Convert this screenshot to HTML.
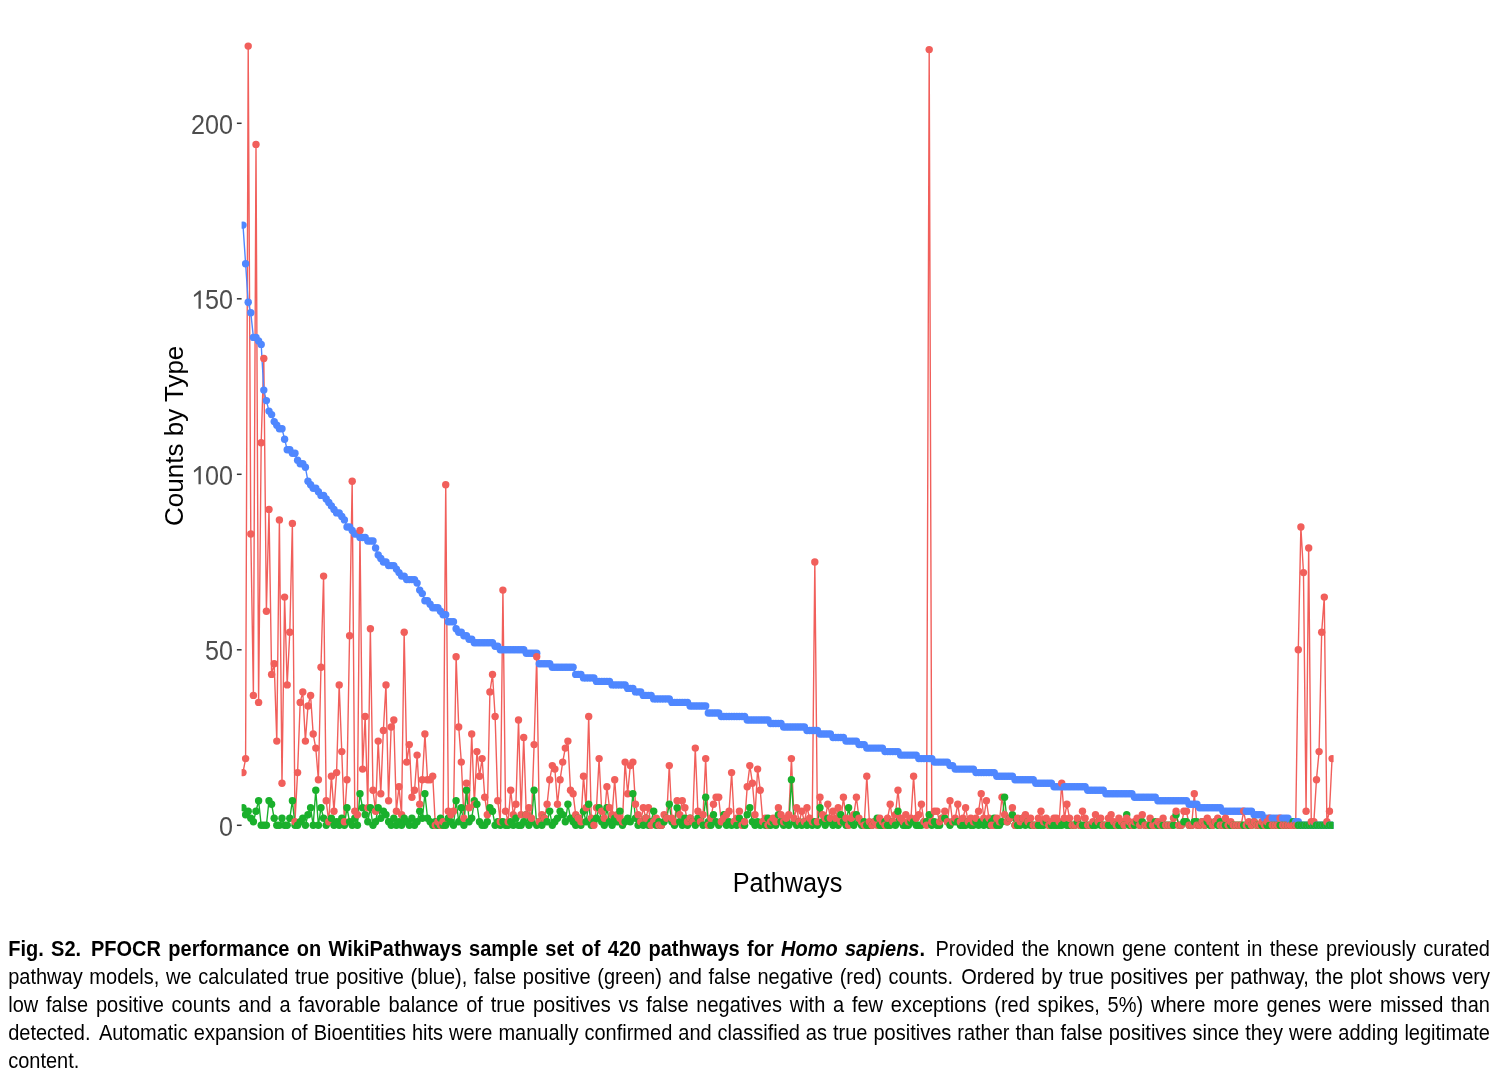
<!DOCTYPE html>
<html><head><meta charset="utf-8"><title>Fig. S2</title>
<style>
html,body{margin:0;padding:0;background:#fff;}
body{width:1498px;height:1080px;position:relative;overflow:hidden;font-family:"Liberation Sans",sans-serif;}
svg{position:absolute;left:0;top:0;filter:blur(0.45px);}
#cap{filter:blur(0.45px);}
.b{fill:#4F87FF}.g{fill:#1AB02C}.r{fill:#F15F5B}
.tl{font-family:"Liberation Sans",sans-serif;font-size:25.2px;fill:#4d4d4d;}
.at{font-family:"Liberation Sans",sans-serif;font-size:25.3px;fill:#000;}
#cap{position:absolute;left:8.2px;top:934.7px;width:1481.8px;font-size:20px;line-height:28px;color:#000;}
#cap div{text-align:justify;text-align-last:justify;white-space:nowrap;height:28px;transform:scaleY(1.075);transform-origin:0 20.93px;}
#cap div.last{text-align-last:left;}
</style></head><body>
<svg width="1498" height="1080" viewBox="0 0 1498 1080">
<line x1="236.9" x2="241.6" y1="825.30" y2="825.30" stroke="#333" stroke-width="1.5"/><text transform="translate(232.9,835.90) scale(1,1.1)" text-anchor="end" class="tl">0</text><line x1="236.9" x2="241.6" y1="649.80" y2="649.80" stroke="#333" stroke-width="1.5"/><text transform="translate(232.9,660.40) scale(1,1.1)" text-anchor="end" class="tl">50</text><line x1="236.9" x2="241.6" y1="474.30" y2="474.30" stroke="#333" stroke-width="1.5"/><text transform="translate(232.9,484.90) scale(1,1.1)" text-anchor="end" class="tl">00</text><path d="M200.8 465.9 L200.8 484.2 L198.5 484.2 L198.5 469.4 L194.3 472.4 L193.9 471.8 L193.9 470.4 L199.3 465.9Z" fill="#4d4d4d"/><line x1="236.9" x2="241.6" y1="298.80" y2="298.80" stroke="#333" stroke-width="1.5"/><text transform="translate(232.9,309.40) scale(1,1.1)" text-anchor="end" class="tl">50</text><path d="M200.8 290.4 L200.8 308.7 L198.5 308.7 L198.5 293.9 L194.3 296.9 L193.9 296.3 L193.9 294.9 L199.3 290.4Z" fill="#4d4d4d"/><line x1="236.9" x2="241.6" y1="123.30" y2="123.30" stroke="#333" stroke-width="1.5"/><text transform="translate(232.9,133.90) scale(1,1.1)" text-anchor="end" class="tl">200</text>
<text transform="translate(787.5,892.3) scale(1,1.075)" text-anchor="middle" class="at">Pathways</text>
<text transform="translate(183.3,435.8) scale(1,1.041) rotate(-90)" text-anchor="middle" class="at" style="font-size:25px">Counts by Type</text>
<defs><clipPath id="pc"><rect x="241.6" y="0" width="1092" height="900"/></clipPath></defs>
<g clip-path="url(#pc)"><polyline points="243.00,772.65 245.60,758.61 248.20,46.08 250.80,533.97 253.40,695.43 256.00,144.36 258.60,702.45 261.19,442.71 263.79,358.47 266.39,611.19 268.99,509.40 271.59,674.37 274.19,663.84 276.79,741.06 279.39,519.93 281.99,783.18 284.59,597.15 287.19,684.90 289.79,632.25 292.38,523.44 294.98,821.79 297.58,772.65 300.18,702.45 302.78,691.92 305.38,741.06 307.98,705.96 310.58,695.43 313.18,734.04 315.78,748.08 318.38,779.67 320.98,667.35 323.58,576.09 326.17,800.73 328.77,821.79 331.37,776.16 333.97,811.26 336.57,772.65 339.17,684.90 341.77,751.59 344.37,821.79 346.97,779.67 349.57,635.76 352.17,481.32 354.77,811.26 357.36,814.77 359.96,530.46 362.56,769.14 365.16,716.49 367.76,807.75 370.36,628.74 372.96,790.20 375.56,811.26 378.16,741.06 380.76,793.71 383.36,730.53 385.96,684.90 388.56,800.73 391.15,727.02 393.75,720.00 396.35,811.26 398.95,786.69 401.55,814.77 404.15,632.25 406.75,762.12 409.35,744.57 411.95,797.22 414.55,790.20 417.15,755.10 419.75,804.24 422.34,779.67 424.94,734.04 427.54,779.67 430.14,779.67 432.74,776.16 435.34,825.30 437.94,821.79 440.54,825.30 443.14,821.79 445.74,484.83 448.34,811.26 450.94,814.77 453.54,811.26 456.13,656.82 458.73,727.02 461.33,762.12 463.93,818.28 466.53,783.18 469.13,807.75 471.73,734.04 474.33,804.24 476.93,751.59 479.53,776.16 482.13,758.61 484.73,797.22 487.32,814.77 489.92,691.92 492.52,674.37 495.12,716.49 497.72,800.73 500.32,821.79 502.92,590.13 505.52,811.26 508.12,821.79 510.72,790.20 513.32,814.77 515.92,804.24 518.52,720.00 521.11,814.77 523.71,737.55 526.31,814.77 528.91,807.75 531.51,818.28 534.11,744.57 536.71,656.82 539.31,821.79 541.91,814.77 544.51,818.28 547.11,804.24 549.71,779.67 552.30,765.63 554.90,769.14 557.50,804.24 560.10,779.67 562.70,762.12 565.30,748.08 567.90,741.06 570.50,790.20 573.10,793.71 575.70,814.77 578.30,818.28 580.90,821.79 583.50,776.16 586.09,807.75 588.69,716.49 591.29,818.28 593.89,825.30 596.49,807.75 599.09,758.61 601.69,811.26 604.29,818.28 606.89,786.69 609.49,807.75 612.09,814.77 614.69,779.67 617.28,814.77 619.88,818.28 622.48,821.79 625.08,762.12 627.68,793.71 630.28,765.63 632.88,762.12 635.48,804.24 638.08,814.77 640.68,821.79 643.28,807.75 645.88,818.28 648.48,807.75 651.07,825.30 653.67,821.79 656.27,818.28 658.87,825.30 661.47,825.30 664.07,814.77 666.67,818.28 669.27,765.63 671.87,818.28 674.47,821.79 677.07,800.73 679.67,814.77 682.26,800.73 684.86,807.75 687.46,821.79 690.06,818.28 692.66,821.79 695.26,748.08 697.86,811.26 700.46,821.79 703.06,814.77 705.66,758.61 708.26,825.30 710.86,818.28 713.46,804.24 716.05,797.22 718.65,797.22 721.25,821.79 723.85,818.28 726.45,814.77 729.05,811.26 731.65,772.65 734.25,821.79 736.85,818.28 739.45,811.26 742.05,825.30 744.65,821.79 747.24,786.69 749.84,765.63 752.44,783.18 755.04,814.77 757.64,769.14 760.24,790.20 762.84,821.79 765.44,818.28 768.04,825.30 770.64,821.79 773.24,818.28 775.84,821.79 778.44,807.75 781.03,814.77 783.63,821.79 786.23,818.28 788.83,814.77 791.43,758.61 794.03,818.28 796.63,807.75 799.23,821.79 801.83,811.26 804.43,821.79 807.03,807.75 809.63,818.28 812.22,821.79 814.82,562.05 817.42,821.79 820.02,797.22 822.62,814.77 825.22,818.28 827.82,804.24 830.42,818.28 833.02,811.26 835.62,818.28 838.22,807.75 840.82,821.79 843.42,797.22 846.01,818.28 848.61,825.30 851.21,818.28 853.81,814.77 856.41,797.22 859.01,818.28 861.61,821.79 864.21,825.30 866.81,776.16 869.41,821.79 872.01,825.30 874.61,821.79 877.20,825.30 879.80,818.28 882.40,821.79 885.00,825.30 887.60,818.28 890.20,804.24 892.80,821.79 895.40,814.77 898.00,790.20 900.60,818.28 903.20,821.79 905.80,814.77 908.40,821.79 910.99,818.28 913.59,776.16 916.19,818.28 918.79,814.77 921.39,804.24 923.99,821.79 926.59,825.30 929.19,49.59 931.79,821.79 934.39,811.26 936.99,811.26 939.59,821.79 942.18,818.28 944.78,811.26 947.38,821.79 949.98,800.73 952.58,821.79 955.18,818.28 957.78,804.24 960.38,821.79 962.98,818.28 965.58,807.75 968.18,821.79 970.78,818.28 973.38,821.79 975.97,818.28 978.57,811.26 981.17,793.71 983.77,818.28 986.37,800.73 988.97,818.28 991.57,825.30 994.17,825.30 996.77,818.28 999.37,821.79 1001.97,797.22 1004.57,814.77 1007.16,821.79 1009.76,818.28 1012.36,807.75 1014.96,825.30 1017.56,818.28 1020.16,821.79 1022.76,818.28 1025.36,814.77 1027.96,821.79 1030.56,818.28 1033.16,825.30 1035.76,825.30 1038.36,818.28 1040.95,811.26 1043.55,821.79 1046.15,818.28 1048.75,825.30 1051.35,821.79 1053.95,818.28 1056.55,818.28 1059.15,821.79 1061.75,783.18 1064.35,818.28 1066.95,804.24 1069.55,818.28 1072.14,825.30 1074.74,825.30 1077.34,818.28 1079.94,825.30 1082.54,811.26 1085.14,818.28 1087.74,825.30 1090.34,825.30 1092.94,821.79 1095.54,814.77 1098.14,821.79 1100.74,818.28 1103.34,825.30 1105.93,825.30 1108.53,818.28 1111.13,814.77 1113.73,821.79 1116.33,825.30 1118.93,818.28 1121.53,821.79 1124.13,825.30 1126.73,818.28 1129.33,821.79 1131.93,825.30 1134.53,821.79 1137.12,818.28 1139.72,825.30 1142.32,814.77 1144.92,825.30 1147.52,825.30 1150.12,818.28 1152.72,825.30 1155.32,825.30 1157.92,821.79 1160.52,825.30 1163.12,818.28 1165.72,825.30 1168.32,825.30 1170.91,825.30 1173.51,818.28 1176.11,811.26 1178.71,825.30 1181.31,825.30 1183.91,811.26 1186.51,811.26 1189.11,825.30 1191.71,825.30 1194.31,793.71 1196.91,825.30 1199.51,825.30 1202.10,821.79 1204.70,825.30 1207.30,818.28 1209.90,821.79 1212.50,825.30 1215.10,821.79 1217.70,818.28 1220.30,825.30 1222.90,825.30 1225.50,818.28 1228.10,825.30 1230.70,821.79 1233.30,825.30 1235.89,825.30 1238.49,825.30 1241.09,825.30 1243.69,811.26 1246.29,825.30 1248.89,821.79 1251.49,825.30 1254.09,821.79 1256.69,825.30 1259.29,825.30 1261.89,821.79 1264.49,825.30 1267.08,821.79 1269.68,818.28 1272.28,825.30 1274.88,825.30 1277.48,825.30 1280.08,818.28 1282.68,825.30 1285.28,825.30 1287.88,825.30 1290.48,825.30 1293.08,825.30 1295.68,825.30 1298.28,649.80 1300.87,526.95 1303.47,572.58 1306.07,811.26 1308.67,548.01 1311.27,821.79 1313.87,821.79 1316.47,779.67 1319.07,751.59 1321.67,632.25 1324.27,597.15 1326.87,821.79 1329.47,811.26 1332.06,758.61" fill="none" stroke="#F15F5B" stroke-width="1.4" stroke-linejoin="round"/><polyline points="243.00,807.75 245.60,814.77 248.20,811.26 250.80,818.28 253.40,821.79 256.00,811.26 258.60,800.73 261.19,825.30 263.79,825.30 266.39,825.30 268.99,800.73 271.59,804.24 274.19,818.28 276.79,825.30 279.39,825.30 281.99,818.28 284.59,825.30 287.19,825.30 289.79,818.28 292.38,800.73 294.98,825.30 297.58,825.30 300.18,821.79 302.78,818.28 305.38,825.30 307.98,814.77 310.58,807.75 313.18,825.30 315.78,790.20 318.38,825.30 320.98,807.75 323.58,818.28 326.17,825.30 328.77,821.79 331.37,818.28 333.97,825.30 336.57,821.79 339.17,825.30 341.77,818.28 344.37,825.30 346.97,807.75 349.57,821.79 352.17,825.30 354.77,818.28 357.36,825.30 359.96,793.71 362.56,807.75 365.16,814.77 367.76,821.79 370.36,807.75 372.96,825.30 375.56,821.79 378.16,807.75 380.76,818.28 383.36,811.26 385.96,814.77 388.56,821.79 391.15,825.30 393.75,818.28 396.35,825.30 398.95,821.79 401.55,825.30 404.15,818.28 406.75,821.79 409.35,825.30 411.95,818.28 414.55,825.30 417.15,821.79 419.75,811.26 422.34,818.28 424.94,793.71 427.54,818.28 430.14,821.79 432.74,825.30 435.34,821.79 437.94,825.30 440.54,818.28 443.14,825.30 445.74,825.30 448.34,818.28 450.94,821.79 453.54,825.30 456.13,800.73 458.73,821.79 461.33,807.75 463.93,825.30 466.53,790.20 469.13,821.79 471.73,818.28 474.33,800.73 476.93,804.24 479.53,821.79 482.13,825.30 484.73,825.30 487.32,821.79 489.92,807.75 492.52,811.26 495.12,825.30 497.72,821.79 500.32,825.30 502.92,821.79 505.52,825.30 508.12,825.30 510.72,821.79 513.32,825.30 515.92,818.28 518.52,825.30 521.11,825.30 523.71,821.79 526.31,814.77 528.91,825.30 531.51,821.79 534.11,790.20 536.71,825.30 539.31,821.79 541.91,825.30 544.51,818.28 547.11,821.79 549.71,811.26 552.30,825.30 554.90,821.79 557.50,818.28 560.10,811.26 562.70,814.77 565.30,821.79 567.90,804.24 570.50,818.28 573.10,821.79 575.70,825.30 578.30,818.28 580.90,825.30 583.50,811.26 586.09,821.79 588.69,804.24 591.29,825.30 593.89,821.79 596.49,818.28 599.09,807.75 601.69,821.79 604.29,825.30 606.89,807.75 609.49,821.79 612.09,825.30 614.69,818.28 617.28,821.79 619.88,811.26 622.48,825.30 625.08,821.79 627.68,818.28 630.28,821.79 632.88,793.71 635.48,818.28 638.08,825.30 640.68,821.79 643.28,825.30 645.88,818.28 648.48,825.30 651.07,821.79 653.67,811.26 656.27,825.30 658.87,821.79 661.47,825.30 664.07,821.79 666.67,818.28 669.27,804.24 671.87,821.79 674.47,825.30 677.07,807.75 679.67,821.79 682.26,825.30 684.86,818.28 687.46,825.30 690.06,818.28 692.66,821.79 695.26,825.30 697.86,818.28 700.46,821.79 703.06,825.30 705.66,797.22 708.26,821.79 710.86,825.30 713.46,814.77 716.05,821.79 718.65,825.30 721.25,821.79 723.85,814.77 726.45,825.30 729.05,821.79 731.65,825.30 734.25,821.79 736.85,825.30 739.45,818.28 742.05,821.79 744.65,825.30 747.24,814.77 749.84,807.75 752.44,821.79 755.04,825.30 757.64,821.79 760.24,825.30 762.84,821.79 765.44,825.30 768.04,818.28 770.64,825.30 773.24,821.79 775.84,825.30 778.44,814.77 781.03,821.79 783.63,825.30 786.23,821.79 788.83,825.30 791.43,779.67 794.03,821.79 796.63,825.30 799.23,821.79 801.83,825.30 804.43,821.79 807.03,825.30 809.63,821.79 812.22,825.30 814.82,821.79 817.42,825.30 820.02,807.75 822.62,821.79 825.22,825.30 827.82,818.28 830.42,821.79 833.02,825.30 835.62,821.79 838.22,825.30 840.82,814.77 843.42,821.79 846.01,825.30 848.61,807.75 851.21,821.79 853.81,825.30 856.41,814.77 859.01,821.79 861.61,825.30 864.21,821.79 866.81,825.30 869.41,825.30 872.01,825.30 874.61,821.79 877.20,818.28 879.80,825.30 882.40,825.30 885.00,821.79 887.60,825.30 890.20,825.30 892.80,821.79 895.40,825.30 898.00,811.26 900.60,821.79 903.20,825.30 905.80,825.30 908.40,825.30 910.99,821.79 913.59,821.79 916.19,825.30 918.79,825.30 921.39,825.30 923.99,821.79 926.59,821.79 929.19,814.77 931.79,825.30 934.39,821.79 936.99,825.30 939.59,825.30 942.18,818.28 944.78,818.28 947.38,821.79 949.98,825.30 952.58,821.79 955.18,821.79 957.78,821.79 960.38,825.30 962.98,825.30 965.58,825.30 968.18,821.79 970.78,825.30 973.38,825.30 975.97,821.79 978.57,825.30 981.17,821.79 983.77,825.30 986.37,821.79 988.97,825.30 991.57,821.79 994.17,818.28 996.77,825.30 999.37,825.30 1001.97,821.79 1004.57,797.22 1007.16,821.79 1009.76,818.28 1012.36,814.77 1014.96,825.30 1017.56,825.30 1020.16,825.30 1022.76,818.28 1025.36,825.30 1027.96,821.79 1030.56,825.30 1033.16,825.30 1035.76,825.30 1038.36,825.30 1040.95,825.30 1043.55,825.30 1046.15,821.79 1048.75,825.30 1051.35,825.30 1053.95,825.30 1056.55,825.30 1059.15,825.30 1061.75,825.30 1064.35,821.79 1066.95,825.30 1069.55,825.30 1072.14,825.30 1074.74,825.30 1077.34,821.79 1079.94,825.30 1082.54,825.30 1085.14,825.30 1087.74,825.30 1090.34,825.30 1092.94,825.30 1095.54,825.30 1098.14,821.79 1100.74,825.30 1103.34,825.30 1105.93,825.30 1108.53,825.30 1111.13,825.30 1113.73,825.30 1116.33,825.30 1118.93,825.30 1121.53,825.30 1124.13,825.30 1126.73,814.77 1129.33,825.30 1131.93,825.30 1134.53,825.30 1137.12,821.79 1139.72,825.30 1142.32,821.79 1144.92,825.30 1147.52,825.30 1150.12,825.30 1152.72,825.30 1155.32,821.79 1157.92,825.30 1160.52,825.30 1163.12,825.30 1165.72,825.30 1168.32,825.30 1170.91,825.30 1173.51,825.30 1176.11,814.77 1178.71,825.30 1181.31,825.30 1183.91,821.79 1186.51,821.79 1189.11,825.30 1191.71,825.30 1194.31,821.79 1196.91,821.79 1199.51,825.30 1202.10,821.79 1204.70,825.30 1207.30,821.79 1209.90,825.30 1212.50,825.30 1215.10,821.79 1217.70,825.30 1220.30,821.79 1222.90,825.30 1225.50,825.30 1228.10,825.30 1230.70,825.30 1233.30,825.30 1235.89,825.30 1238.49,825.30 1241.09,825.30 1243.69,825.30 1246.29,825.30 1248.89,825.30 1251.49,825.30 1254.09,821.79 1256.69,825.30 1259.29,825.30 1261.89,825.30 1264.49,825.30 1267.08,825.30 1269.68,825.30 1272.28,825.30 1274.88,825.30 1277.48,825.30 1280.08,825.30 1282.68,825.30 1285.28,825.30 1287.88,825.30 1290.48,825.30 1293.08,821.79 1295.68,825.30 1298.28,825.30 1300.87,825.30 1303.47,825.30 1306.07,825.30 1308.67,825.30 1311.27,825.30 1313.87,825.30 1316.47,825.30 1319.07,825.30 1321.67,825.30 1324.27,825.30 1326.87,825.30 1329.47,825.30 1332.06,825.30" fill="none" stroke="#1AB02C" stroke-width="1.4" stroke-linejoin="round"/><polyline points="243.00,225.09 245.60,263.70 248.20,302.31 250.80,312.84 253.40,337.41 256.00,337.41 258.60,340.92 261.19,344.43 263.79,390.06 266.39,400.59 268.99,411.12 271.59,414.63 274.19,421.65 276.79,425.16 279.39,428.67 281.99,428.67 284.59,439.20 287.19,449.73 289.79,449.73 292.38,453.24 294.98,453.24 297.58,460.26 300.18,463.77 302.78,463.77 305.38,467.28 307.98,481.32 310.58,484.83 313.18,488.34 315.78,488.34 318.38,491.85 320.98,495.36 323.58,495.36 326.17,498.87 328.77,502.38 331.37,505.89 333.97,509.40 336.57,512.91 339.17,512.91 341.77,516.42 344.37,519.93 346.97,526.95 349.57,526.95 352.17,530.46 354.77,533.97 357.36,533.97 359.96,537.48 362.56,537.48 365.16,537.48 367.76,540.99 370.36,540.99 372.96,540.99 375.56,548.01 378.16,555.03 380.76,558.54 383.36,562.05 385.96,562.05 388.56,565.56 391.15,565.56 393.75,565.56 396.35,569.07 398.95,572.58 401.55,576.09 404.15,576.09 406.75,579.60 409.35,579.60 411.95,579.60 414.55,579.60 417.15,583.11 419.75,590.13 422.34,593.64 424.94,600.66 427.54,600.66 430.14,604.17 432.74,607.68 435.34,607.68 437.94,607.68 440.54,611.19 443.14,614.70 445.74,614.70 448.34,621.72 450.94,621.72 453.54,621.72 456.13,628.74 458.73,632.25 461.33,632.25 463.93,635.76 466.53,635.76 469.13,639.27 471.73,639.27 474.33,642.78 476.93,642.78 479.53,642.78 482.13,642.78 484.73,642.78 487.32,642.78 489.92,642.78 492.52,642.78 495.12,646.29 497.72,646.29 500.32,649.80 502.92,649.80 505.52,649.80 508.12,649.80 510.72,649.80 513.32,649.80 515.92,649.80 518.52,649.80 521.11,649.80 523.71,649.80 526.31,653.31 528.91,653.31 531.51,653.31 534.11,653.31 536.71,653.31 539.31,663.84 541.91,663.84 544.51,663.84 547.11,663.84 549.71,663.84 552.30,667.35 554.90,667.35 557.50,667.35 560.10,667.35 562.70,667.35 565.30,667.35 567.90,667.35 570.50,667.35 573.10,667.35 575.70,674.37 578.30,674.37 580.90,674.37 583.50,677.88 586.09,677.88 588.69,677.88 591.29,677.88 593.89,677.88 596.49,681.39 599.09,681.39 601.69,681.39 604.29,681.39 606.89,681.39 609.49,681.39 612.09,684.90 614.69,684.90 617.28,684.90 619.88,684.90 622.48,684.90 625.08,684.90 627.68,688.41 630.28,688.41 632.88,688.41 635.48,691.92 638.08,691.92 640.68,691.92 643.28,695.43 645.88,695.43 648.48,695.43 651.07,695.43 653.67,698.94 656.27,698.94 658.87,698.94 661.47,698.94 664.07,698.94 666.67,698.94 669.27,698.94 671.87,702.45 674.47,702.45 677.07,702.45 679.67,702.45 682.26,702.45 684.86,702.45 687.46,702.45 690.06,705.96 692.66,705.96 695.26,705.96 697.86,705.96 700.46,705.96 703.06,705.96 705.66,705.96 708.26,712.98 710.86,712.98 713.46,712.98 716.05,712.98 718.65,712.98 721.25,716.49 723.85,716.49 726.45,716.49 729.05,716.49 731.65,716.49 734.25,716.49 736.85,716.49 739.45,716.49 742.05,716.49 744.65,716.49 747.24,720.00 749.84,720.00 752.44,720.00 755.04,720.00 757.64,720.00 760.24,720.00 762.84,720.00 765.44,720.00 768.04,720.00 770.64,723.51 773.24,723.51 775.84,723.51 778.44,723.51 781.03,723.51 783.63,727.02 786.23,727.02 788.83,727.02 791.43,727.02 794.03,727.02 796.63,727.02 799.23,727.02 801.83,727.02 804.43,727.02 807.03,730.53 809.63,730.53 812.22,730.53 814.82,730.53 817.42,730.53 820.02,734.04 822.62,734.04 825.22,734.04 827.82,734.04 830.42,734.04 833.02,737.55 835.62,737.55 838.22,737.55 840.82,737.55 843.42,737.55 846.01,741.06 848.61,741.06 851.21,741.06 853.81,741.06 856.41,741.06 859.01,744.57 861.61,744.57 864.21,744.57 866.81,748.08 869.41,748.08 872.01,748.08 874.61,748.08 877.20,748.08 879.80,748.08 882.40,748.08 885.00,751.59 887.60,751.59 890.20,751.59 892.80,751.59 895.40,751.59 898.00,751.59 900.60,755.10 903.20,755.10 905.80,755.10 908.40,755.10 910.99,755.10 913.59,755.10 916.19,755.10 918.79,758.61 921.39,758.61 923.99,758.61 926.59,758.61 929.19,758.61 931.79,758.61 934.39,762.12 936.99,762.12 939.59,762.12 942.18,762.12 944.78,762.12 947.38,762.12 949.98,765.63 952.58,765.63 955.18,769.14 957.78,769.14 960.38,769.14 962.98,769.14 965.58,769.14 968.18,769.14 970.78,769.14 973.38,769.14 975.97,772.65 978.57,772.65 981.17,772.65 983.77,772.65 986.37,772.65 988.97,772.65 991.57,772.65 994.17,772.65 996.77,776.16 999.37,776.16 1001.97,776.16 1004.57,776.16 1007.16,776.16 1009.76,776.16 1012.36,776.16 1014.96,779.67 1017.56,779.67 1020.16,779.67 1022.76,779.67 1025.36,779.67 1027.96,779.67 1030.56,779.67 1033.16,779.67 1035.76,783.18 1038.36,783.18 1040.95,783.18 1043.55,783.18 1046.15,783.18 1048.75,783.18 1051.35,783.18 1053.95,786.69 1056.55,786.69 1059.15,786.69 1061.75,786.69 1064.35,786.69 1066.95,786.69 1069.55,786.69 1072.14,786.69 1074.74,786.69 1077.34,786.69 1079.94,786.69 1082.54,786.69 1085.14,786.69 1087.74,790.20 1090.34,790.20 1092.94,790.20 1095.54,790.20 1098.14,790.20 1100.74,790.20 1103.34,790.20 1105.93,793.71 1108.53,793.71 1111.13,793.71 1113.73,793.71 1116.33,793.71 1118.93,793.71 1121.53,793.71 1124.13,793.71 1126.73,793.71 1129.33,793.71 1131.93,793.71 1134.53,797.22 1137.12,797.22 1139.72,797.22 1142.32,797.22 1144.92,797.22 1147.52,797.22 1150.12,797.22 1152.72,797.22 1155.32,797.22 1157.92,800.73 1160.52,800.73 1163.12,800.73 1165.72,800.73 1168.32,800.73 1170.91,800.73 1173.51,800.73 1176.11,800.73 1178.71,800.73 1181.31,800.73 1183.91,800.73 1186.51,800.73 1189.11,804.24 1191.71,804.24 1194.31,804.24 1196.91,804.24 1199.51,807.75 1202.10,807.75 1204.70,807.75 1207.30,807.75 1209.90,807.75 1212.50,807.75 1215.10,807.75 1217.70,807.75 1220.30,807.75 1222.90,811.26 1225.50,811.26 1228.10,811.26 1230.70,811.26 1233.30,811.26 1235.89,811.26 1238.49,811.26 1241.09,811.26 1243.69,811.26 1246.29,811.26 1248.89,811.26 1251.49,811.26 1254.09,814.77 1256.69,814.77 1259.29,814.77 1261.89,814.77 1264.49,818.28 1267.08,818.28 1269.68,818.28 1272.28,818.28 1274.88,818.28 1277.48,818.28 1280.08,818.28 1282.68,818.28 1285.28,818.28 1287.88,818.28 1290.48,821.79 1293.08,821.79 1295.68,821.79 1298.28,821.79 1300.87,825.30 1303.47,825.30 1306.07,825.30 1308.67,825.30 1311.27,825.30 1313.87,825.30 1316.47,825.30 1319.07,825.30 1321.67,825.30 1324.27,825.30 1326.87,825.30 1329.47,825.30 1332.06,825.30" fill="none" stroke="#4F87FF" stroke-width="1.4" stroke-linejoin="round"/><circle class="b" cx="243.0" cy="225.1" r="3.7"/><circle class="g" cx="243.0" cy="807.8" r="3.7"/><circle class="r" cx="243.0" cy="772.6" r="3.7"/><circle class="b" cx="245.6" cy="263.7" r="3.7"/><circle class="g" cx="245.6" cy="814.8" r="3.7"/><circle class="r" cx="245.6" cy="758.6" r="3.7"/><circle class="b" cx="248.2" cy="302.3" r="3.7"/><circle class="g" cx="248.2" cy="811.3" r="3.7"/><circle class="r" cx="248.2" cy="46.1" r="3.7"/><circle class="b" cx="250.8" cy="312.8" r="3.7"/><circle class="g" cx="250.8" cy="818.3" r="3.7"/><circle class="r" cx="250.8" cy="534.0" r="3.7"/><circle class="b" cx="253.4" cy="337.4" r="3.7"/><circle class="g" cx="253.4" cy="821.8" r="3.7"/><circle class="r" cx="253.4" cy="695.4" r="3.7"/><circle class="b" cx="256.0" cy="337.4" r="3.7"/><circle class="g" cx="256.0" cy="811.3" r="3.7"/><circle class="r" cx="256.0" cy="144.4" r="3.7"/><circle class="b" cx="258.6" cy="340.9" r="3.7"/><circle class="g" cx="258.6" cy="800.7" r="3.7"/><circle class="r" cx="258.6" cy="702.4" r="3.7"/><circle class="b" cx="261.2" cy="344.4" r="3.7"/><circle class="g" cx="261.2" cy="825.3" r="3.7"/><circle class="r" cx="261.2" cy="442.7" r="3.7"/><circle class="b" cx="263.8" cy="390.1" r="3.7"/><circle class="g" cx="263.8" cy="825.3" r="3.7"/><circle class="r" cx="263.8" cy="358.5" r="3.7"/><circle class="b" cx="266.4" cy="400.6" r="3.7"/><circle class="g" cx="266.4" cy="825.3" r="3.7"/><circle class="r" cx="266.4" cy="611.2" r="3.7"/><circle class="b" cx="269.0" cy="411.1" r="3.7"/><circle class="g" cx="269.0" cy="800.7" r="3.7"/><circle class="r" cx="269.0" cy="509.4" r="3.7"/><circle class="b" cx="271.6" cy="414.6" r="3.7"/><circle class="g" cx="271.6" cy="804.2" r="3.7"/><circle class="r" cx="271.6" cy="674.4" r="3.7"/><circle class="b" cx="274.2" cy="421.6" r="3.7"/><circle class="g" cx="274.2" cy="818.3" r="3.7"/><circle class="r" cx="274.2" cy="663.8" r="3.7"/><circle class="b" cx="276.8" cy="425.2" r="3.7"/><circle class="g" cx="276.8" cy="825.3" r="3.7"/><circle class="r" cx="276.8" cy="741.1" r="3.7"/><circle class="b" cx="279.4" cy="428.7" r="3.7"/><circle class="g" cx="279.4" cy="825.3" r="3.7"/><circle class="r" cx="279.4" cy="519.9" r="3.7"/><circle class="b" cx="282.0" cy="428.7" r="3.7"/><circle class="g" cx="282.0" cy="818.3" r="3.7"/><circle class="r" cx="282.0" cy="783.2" r="3.7"/><circle class="b" cx="284.6" cy="439.2" r="3.7"/><circle class="g" cx="284.6" cy="825.3" r="3.7"/><circle class="r" cx="284.6" cy="597.1" r="3.7"/><circle class="b" cx="287.2" cy="449.7" r="3.7"/><circle class="g" cx="287.2" cy="825.3" r="3.7"/><circle class="r" cx="287.2" cy="684.9" r="3.7"/><circle class="b" cx="289.8" cy="449.7" r="3.7"/><circle class="g" cx="289.8" cy="818.3" r="3.7"/><circle class="r" cx="289.8" cy="632.2" r="3.7"/><circle class="b" cx="292.4" cy="453.2" r="3.7"/><circle class="g" cx="292.4" cy="800.7" r="3.7"/><circle class="r" cx="292.4" cy="523.4" r="3.7"/><circle class="b" cx="295.0" cy="453.2" r="3.7"/><circle class="g" cx="295.0" cy="825.3" r="3.7"/><circle class="r" cx="295.0" cy="821.8" r="3.7"/><circle class="b" cx="297.6" cy="460.3" r="3.7"/><circle class="g" cx="297.6" cy="825.3" r="3.7"/><circle class="r" cx="297.6" cy="772.6" r="3.7"/><circle class="b" cx="300.2" cy="463.8" r="3.7"/><circle class="g" cx="300.2" cy="821.8" r="3.7"/><circle class="r" cx="300.2" cy="702.4" r="3.7"/><circle class="b" cx="302.8" cy="463.8" r="3.7"/><circle class="g" cx="302.8" cy="818.3" r="3.7"/><circle class="r" cx="302.8" cy="691.9" r="3.7"/><circle class="b" cx="305.4" cy="467.3" r="3.7"/><circle class="g" cx="305.4" cy="825.3" r="3.7"/><circle class="r" cx="305.4" cy="741.1" r="3.7"/><circle class="b" cx="308.0" cy="481.3" r="3.7"/><circle class="g" cx="308.0" cy="814.8" r="3.7"/><circle class="r" cx="308.0" cy="706.0" r="3.7"/><circle class="b" cx="310.6" cy="484.8" r="3.7"/><circle class="g" cx="310.6" cy="807.8" r="3.7"/><circle class="r" cx="310.6" cy="695.4" r="3.7"/><circle class="b" cx="313.2" cy="488.3" r="3.7"/><circle class="g" cx="313.2" cy="825.3" r="3.7"/><circle class="r" cx="313.2" cy="734.0" r="3.7"/><circle class="b" cx="315.8" cy="488.3" r="3.7"/><circle class="g" cx="315.8" cy="790.2" r="3.7"/><circle class="r" cx="315.8" cy="748.1" r="3.7"/><circle class="b" cx="318.4" cy="491.8" r="3.7"/><circle class="g" cx="318.4" cy="825.3" r="3.7"/><circle class="r" cx="318.4" cy="779.7" r="3.7"/><circle class="b" cx="321.0" cy="495.4" r="3.7"/><circle class="g" cx="321.0" cy="807.8" r="3.7"/><circle class="r" cx="321.0" cy="667.3" r="3.7"/><circle class="b" cx="323.6" cy="495.4" r="3.7"/><circle class="g" cx="323.6" cy="818.3" r="3.7"/><circle class="r" cx="323.6" cy="576.1" r="3.7"/><circle class="b" cx="326.2" cy="498.9" r="3.7"/><circle class="g" cx="326.2" cy="825.3" r="3.7"/><circle class="r" cx="326.2" cy="800.7" r="3.7"/><circle class="b" cx="328.8" cy="502.4" r="3.7"/><circle class="g" cx="328.8" cy="821.8" r="3.7"/><circle class="r" cx="328.8" cy="821.8" r="3.7"/><circle class="b" cx="331.4" cy="505.9" r="3.7"/><circle class="g" cx="331.4" cy="818.3" r="3.7"/><circle class="r" cx="331.4" cy="776.2" r="3.7"/><circle class="b" cx="334.0" cy="509.4" r="3.7"/><circle class="g" cx="334.0" cy="825.3" r="3.7"/><circle class="r" cx="334.0" cy="811.3" r="3.7"/><circle class="b" cx="336.6" cy="512.9" r="3.7"/><circle class="g" cx="336.6" cy="821.8" r="3.7"/><circle class="r" cx="336.6" cy="772.6" r="3.7"/><circle class="b" cx="339.2" cy="512.9" r="3.7"/><circle class="g" cx="339.2" cy="825.3" r="3.7"/><circle class="r" cx="339.2" cy="684.9" r="3.7"/><circle class="b" cx="341.8" cy="516.4" r="3.7"/><circle class="g" cx="341.8" cy="818.3" r="3.7"/><circle class="r" cx="341.8" cy="751.6" r="3.7"/><circle class="b" cx="344.4" cy="519.9" r="3.7"/><circle class="g" cx="344.4" cy="825.3" r="3.7"/><circle class="r" cx="344.4" cy="821.8" r="3.7"/><circle class="b" cx="347.0" cy="527.0" r="3.7"/><circle class="g" cx="347.0" cy="807.8" r="3.7"/><circle class="r" cx="347.0" cy="779.7" r="3.7"/><circle class="b" cx="349.6" cy="527.0" r="3.7"/><circle class="g" cx="349.6" cy="821.8" r="3.7"/><circle class="r" cx="349.6" cy="635.8" r="3.7"/><circle class="b" cx="352.2" cy="530.5" r="3.7"/><circle class="g" cx="352.2" cy="825.3" r="3.7"/><circle class="r" cx="352.2" cy="481.3" r="3.7"/><circle class="b" cx="354.8" cy="534.0" r="3.7"/><circle class="g" cx="354.8" cy="818.3" r="3.7"/><circle class="r" cx="354.8" cy="811.3" r="3.7"/><circle class="b" cx="357.4" cy="534.0" r="3.7"/><circle class="g" cx="357.4" cy="825.3" r="3.7"/><circle class="r" cx="357.4" cy="814.8" r="3.7"/><circle class="b" cx="360.0" cy="537.5" r="3.7"/><circle class="g" cx="360.0" cy="793.7" r="3.7"/><circle class="r" cx="360.0" cy="530.5" r="3.7"/><circle class="b" cx="362.6" cy="537.5" r="3.7"/><circle class="g" cx="362.6" cy="807.8" r="3.7"/><circle class="r" cx="362.6" cy="769.1" r="3.7"/><circle class="b" cx="365.2" cy="537.5" r="3.7"/><circle class="g" cx="365.2" cy="814.8" r="3.7"/><circle class="r" cx="365.2" cy="716.5" r="3.7"/><circle class="b" cx="367.8" cy="541.0" r="3.7"/><circle class="g" cx="367.8" cy="821.8" r="3.7"/><circle class="r" cx="367.8" cy="807.8" r="3.7"/><circle class="b" cx="370.4" cy="541.0" r="3.7"/><circle class="g" cx="370.4" cy="807.8" r="3.7"/><circle class="r" cx="370.4" cy="628.7" r="3.7"/><circle class="b" cx="373.0" cy="541.0" r="3.7"/><circle class="g" cx="373.0" cy="825.3" r="3.7"/><circle class="r" cx="373.0" cy="790.2" r="3.7"/><circle class="b" cx="375.6" cy="548.0" r="3.7"/><circle class="g" cx="375.6" cy="821.8" r="3.7"/><circle class="r" cx="375.6" cy="811.3" r="3.7"/><circle class="b" cx="378.2" cy="555.0" r="3.7"/><circle class="g" cx="378.2" cy="807.8" r="3.7"/><circle class="r" cx="378.2" cy="741.1" r="3.7"/><circle class="b" cx="380.8" cy="558.5" r="3.7"/><circle class="g" cx="380.8" cy="818.3" r="3.7"/><circle class="r" cx="380.8" cy="793.7" r="3.7"/><circle class="b" cx="383.4" cy="562.0" r="3.7"/><circle class="g" cx="383.4" cy="811.3" r="3.7"/><circle class="r" cx="383.4" cy="730.5" r="3.7"/><circle class="b" cx="386.0" cy="562.0" r="3.7"/><circle class="g" cx="386.0" cy="814.8" r="3.7"/><circle class="r" cx="386.0" cy="684.9" r="3.7"/><circle class="b" cx="388.6" cy="565.6" r="3.7"/><circle class="g" cx="388.6" cy="821.8" r="3.7"/><circle class="r" cx="388.6" cy="800.7" r="3.7"/><circle class="b" cx="391.2" cy="565.6" r="3.7"/><circle class="g" cx="391.2" cy="825.3" r="3.7"/><circle class="r" cx="391.2" cy="727.0" r="3.7"/><circle class="b" cx="393.8" cy="565.6" r="3.7"/><circle class="g" cx="393.8" cy="818.3" r="3.7"/><circle class="r" cx="393.8" cy="720.0" r="3.7"/><circle class="b" cx="396.4" cy="569.1" r="3.7"/><circle class="g" cx="396.4" cy="825.3" r="3.7"/><circle class="r" cx="396.4" cy="811.3" r="3.7"/><circle class="b" cx="399.0" cy="572.6" r="3.7"/><circle class="g" cx="399.0" cy="821.8" r="3.7"/><circle class="r" cx="399.0" cy="786.7" r="3.7"/><circle class="b" cx="401.6" cy="576.1" r="3.7"/><circle class="g" cx="401.6" cy="825.3" r="3.7"/><circle class="r" cx="401.6" cy="814.8" r="3.7"/><circle class="b" cx="404.2" cy="576.1" r="3.7"/><circle class="g" cx="404.2" cy="818.3" r="3.7"/><circle class="r" cx="404.2" cy="632.2" r="3.7"/><circle class="b" cx="406.7" cy="579.6" r="3.7"/><circle class="g" cx="406.7" cy="821.8" r="3.7"/><circle class="r" cx="406.7" cy="762.1" r="3.7"/><circle class="b" cx="409.3" cy="579.6" r="3.7"/><circle class="g" cx="409.3" cy="825.3" r="3.7"/><circle class="r" cx="409.3" cy="744.6" r="3.7"/><circle class="b" cx="411.9" cy="579.6" r="3.7"/><circle class="g" cx="411.9" cy="818.3" r="3.7"/><circle class="r" cx="411.9" cy="797.2" r="3.7"/><circle class="b" cx="414.5" cy="579.6" r="3.7"/><circle class="g" cx="414.5" cy="825.3" r="3.7"/><circle class="r" cx="414.5" cy="790.2" r="3.7"/><circle class="b" cx="417.1" cy="583.1" r="3.7"/><circle class="g" cx="417.1" cy="821.8" r="3.7"/><circle class="r" cx="417.1" cy="755.1" r="3.7"/><circle class="b" cx="419.7" cy="590.1" r="3.7"/><circle class="g" cx="419.7" cy="811.3" r="3.7"/><circle class="r" cx="419.7" cy="804.2" r="3.7"/><circle class="b" cx="422.3" cy="593.6" r="3.7"/><circle class="g" cx="422.3" cy="818.3" r="3.7"/><circle class="r" cx="422.3" cy="779.7" r="3.7"/><circle class="b" cx="424.9" cy="600.7" r="3.7"/><circle class="g" cx="424.9" cy="793.7" r="3.7"/><circle class="r" cx="424.9" cy="734.0" r="3.7"/><circle class="b" cx="427.5" cy="600.7" r="3.7"/><circle class="g" cx="427.5" cy="818.3" r="3.7"/><circle class="r" cx="427.5" cy="779.7" r="3.7"/><circle class="b" cx="430.1" cy="604.2" r="3.7"/><circle class="g" cx="430.1" cy="821.8" r="3.7"/><circle class="r" cx="430.1" cy="779.7" r="3.7"/><circle class="b" cx="432.7" cy="607.7" r="3.7"/><circle class="g" cx="432.7" cy="825.3" r="3.7"/><circle class="r" cx="432.7" cy="776.2" r="3.7"/><circle class="b" cx="435.3" cy="607.7" r="3.7"/><circle class="g" cx="435.3" cy="821.8" r="3.7"/><circle class="r" cx="435.3" cy="825.3" r="3.7"/><circle class="b" cx="437.9" cy="607.7" r="3.7"/><circle class="g" cx="437.9" cy="825.3" r="3.7"/><circle class="r" cx="437.9" cy="821.8" r="3.7"/><circle class="b" cx="440.5" cy="611.2" r="3.7"/><circle class="g" cx="440.5" cy="818.3" r="3.7"/><circle class="r" cx="440.5" cy="825.3" r="3.7"/><circle class="b" cx="443.1" cy="614.7" r="3.7"/><circle class="g" cx="443.1" cy="825.3" r="3.7"/><circle class="r" cx="443.1" cy="821.8" r="3.7"/><circle class="b" cx="445.7" cy="614.7" r="3.7"/><circle class="g" cx="445.7" cy="825.3" r="3.7"/><circle class="r" cx="445.7" cy="484.8" r="3.7"/><circle class="b" cx="448.3" cy="621.7" r="3.7"/><circle class="g" cx="448.3" cy="818.3" r="3.7"/><circle class="r" cx="448.3" cy="811.3" r="3.7"/><circle class="b" cx="450.9" cy="621.7" r="3.7"/><circle class="g" cx="450.9" cy="821.8" r="3.7"/><circle class="r" cx="450.9" cy="814.8" r="3.7"/><circle class="b" cx="453.5" cy="621.7" r="3.7"/><circle class="g" cx="453.5" cy="825.3" r="3.7"/><circle class="r" cx="453.5" cy="811.3" r="3.7"/><circle class="b" cx="456.1" cy="628.7" r="3.7"/><circle class="g" cx="456.1" cy="800.7" r="3.7"/><circle class="r" cx="456.1" cy="656.8" r="3.7"/><circle class="b" cx="458.7" cy="632.2" r="3.7"/><circle class="g" cx="458.7" cy="821.8" r="3.7"/><circle class="r" cx="458.7" cy="727.0" r="3.7"/><circle class="b" cx="461.3" cy="632.2" r="3.7"/><circle class="g" cx="461.3" cy="807.8" r="3.7"/><circle class="r" cx="461.3" cy="762.1" r="3.7"/><circle class="b" cx="463.9" cy="635.8" r="3.7"/><circle class="g" cx="463.9" cy="825.3" r="3.7"/><circle class="r" cx="463.9" cy="818.3" r="3.7"/><circle class="b" cx="466.5" cy="635.8" r="3.7"/><circle class="g" cx="466.5" cy="790.2" r="3.7"/><circle class="r" cx="466.5" cy="783.2" r="3.7"/><circle class="b" cx="469.1" cy="639.3" r="3.7"/><circle class="g" cx="469.1" cy="821.8" r="3.7"/><circle class="r" cx="469.1" cy="807.8" r="3.7"/><circle class="b" cx="471.7" cy="639.3" r="3.7"/><circle class="g" cx="471.7" cy="818.3" r="3.7"/><circle class="r" cx="471.7" cy="734.0" r="3.7"/><circle class="b" cx="474.3" cy="642.8" r="3.7"/><circle class="g" cx="474.3" cy="800.7" r="3.7"/><circle class="r" cx="474.3" cy="804.2" r="3.7"/><circle class="b" cx="476.9" cy="642.8" r="3.7"/><circle class="g" cx="476.9" cy="804.2" r="3.7"/><circle class="r" cx="476.9" cy="751.6" r="3.7"/><circle class="b" cx="479.5" cy="642.8" r="3.7"/><circle class="g" cx="479.5" cy="821.8" r="3.7"/><circle class="r" cx="479.5" cy="776.2" r="3.7"/><circle class="b" cx="482.1" cy="642.8" r="3.7"/><circle class="g" cx="482.1" cy="825.3" r="3.7"/><circle class="r" cx="482.1" cy="758.6" r="3.7"/><circle class="b" cx="484.7" cy="642.8" r="3.7"/><circle class="g" cx="484.7" cy="825.3" r="3.7"/><circle class="r" cx="484.7" cy="797.2" r="3.7"/><circle class="b" cx="487.3" cy="642.8" r="3.7"/><circle class="g" cx="487.3" cy="821.8" r="3.7"/><circle class="r" cx="487.3" cy="814.8" r="3.7"/><circle class="b" cx="489.9" cy="642.8" r="3.7"/><circle class="g" cx="489.9" cy="807.8" r="3.7"/><circle class="r" cx="489.9" cy="691.9" r="3.7"/><circle class="b" cx="492.5" cy="642.8" r="3.7"/><circle class="g" cx="492.5" cy="811.3" r="3.7"/><circle class="r" cx="492.5" cy="674.4" r="3.7"/><circle class="b" cx="495.1" cy="646.3" r="3.7"/><circle class="g" cx="495.1" cy="825.3" r="3.7"/><circle class="r" cx="495.1" cy="716.5" r="3.7"/><circle class="b" cx="497.7" cy="646.3" r="3.7"/><circle class="g" cx="497.7" cy="821.8" r="3.7"/><circle class="r" cx="497.7" cy="800.7" r="3.7"/><circle class="b" cx="500.3" cy="649.8" r="3.7"/><circle class="g" cx="500.3" cy="825.3" r="3.7"/><circle class="r" cx="500.3" cy="821.8" r="3.7"/><circle class="b" cx="502.9" cy="649.8" r="3.7"/><circle class="g" cx="502.9" cy="821.8" r="3.7"/><circle class="r" cx="502.9" cy="590.1" r="3.7"/><circle class="b" cx="505.5" cy="649.8" r="3.7"/><circle class="g" cx="505.5" cy="825.3" r="3.7"/><circle class="r" cx="505.5" cy="811.3" r="3.7"/><circle class="b" cx="508.1" cy="649.8" r="3.7"/><circle class="g" cx="508.1" cy="825.3" r="3.7"/><circle class="r" cx="508.1" cy="821.8" r="3.7"/><circle class="b" cx="510.7" cy="649.8" r="3.7"/><circle class="g" cx="510.7" cy="821.8" r="3.7"/><circle class="r" cx="510.7" cy="790.2" r="3.7"/><circle class="b" cx="513.3" cy="649.8" r="3.7"/><circle class="g" cx="513.3" cy="825.3" r="3.7"/><circle class="r" cx="513.3" cy="814.8" r="3.7"/><circle class="b" cx="515.9" cy="649.8" r="3.7"/><circle class="g" cx="515.9" cy="818.3" r="3.7"/><circle class="r" cx="515.9" cy="804.2" r="3.7"/><circle class="b" cx="518.5" cy="649.8" r="3.7"/><circle class="g" cx="518.5" cy="825.3" r="3.7"/><circle class="r" cx="518.5" cy="720.0" r="3.7"/><circle class="b" cx="521.1" cy="649.8" r="3.7"/><circle class="g" cx="521.1" cy="825.3" r="3.7"/><circle class="r" cx="521.1" cy="814.8" r="3.7"/><circle class="b" cx="523.7" cy="649.8" r="3.7"/><circle class="g" cx="523.7" cy="821.8" r="3.7"/><circle class="r" cx="523.7" cy="737.5" r="3.7"/><circle class="b" cx="526.3" cy="653.3" r="3.7"/><circle class="g" cx="526.3" cy="814.8" r="3.7"/><circle class="r" cx="526.3" cy="814.8" r="3.7"/><circle class="b" cx="528.9" cy="653.3" r="3.7"/><circle class="g" cx="528.9" cy="825.3" r="3.7"/><circle class="r" cx="528.9" cy="807.8" r="3.7"/><circle class="b" cx="531.5" cy="653.3" r="3.7"/><circle class="g" cx="531.5" cy="821.8" r="3.7"/><circle class="r" cx="531.5" cy="818.3" r="3.7"/><circle class="b" cx="534.1" cy="653.3" r="3.7"/><circle class="g" cx="534.1" cy="790.2" r="3.7"/><circle class="r" cx="534.1" cy="744.6" r="3.7"/><circle class="b" cx="536.7" cy="653.3" r="3.7"/><circle class="g" cx="536.7" cy="825.3" r="3.7"/><circle class="r" cx="536.7" cy="656.8" r="3.7"/><circle class="b" cx="539.3" cy="663.8" r="3.7"/><circle class="g" cx="539.3" cy="821.8" r="3.7"/><circle class="r" cx="539.3" cy="821.8" r="3.7"/><circle class="b" cx="541.9" cy="663.8" r="3.7"/><circle class="g" cx="541.9" cy="825.3" r="3.7"/><circle class="r" cx="541.9" cy="814.8" r="3.7"/><circle class="b" cx="544.5" cy="663.8" r="3.7"/><circle class="g" cx="544.5" cy="818.3" r="3.7"/><circle class="r" cx="544.5" cy="818.3" r="3.7"/><circle class="b" cx="547.1" cy="663.8" r="3.7"/><circle class="g" cx="547.1" cy="821.8" r="3.7"/><circle class="r" cx="547.1" cy="804.2" r="3.7"/><circle class="b" cx="549.7" cy="663.8" r="3.7"/><circle class="g" cx="549.7" cy="811.3" r="3.7"/><circle class="r" cx="549.7" cy="779.7" r="3.7"/><circle class="b" cx="552.3" cy="667.3" r="3.7"/><circle class="g" cx="552.3" cy="825.3" r="3.7"/><circle class="r" cx="552.3" cy="765.6" r="3.7"/><circle class="b" cx="554.9" cy="667.3" r="3.7"/><circle class="g" cx="554.9" cy="821.8" r="3.7"/><circle class="r" cx="554.9" cy="769.1" r="3.7"/><circle class="b" cx="557.5" cy="667.3" r="3.7"/><circle class="g" cx="557.5" cy="818.3" r="3.7"/><circle class="r" cx="557.5" cy="804.2" r="3.7"/><circle class="b" cx="560.1" cy="667.3" r="3.7"/><circle class="g" cx="560.1" cy="811.3" r="3.7"/><circle class="r" cx="560.1" cy="779.7" r="3.7"/><circle class="b" cx="562.7" cy="667.3" r="3.7"/><circle class="g" cx="562.7" cy="814.8" r="3.7"/><circle class="r" cx="562.7" cy="762.1" r="3.7"/><circle class="b" cx="565.3" cy="667.3" r="3.7"/><circle class="g" cx="565.3" cy="821.8" r="3.7"/><circle class="r" cx="565.3" cy="748.1" r="3.7"/><circle class="b" cx="567.9" cy="667.3" r="3.7"/><circle class="g" cx="567.9" cy="804.2" r="3.7"/><circle class="r" cx="567.9" cy="741.1" r="3.7"/><circle class="b" cx="570.5" cy="667.3" r="3.7"/><circle class="g" cx="570.5" cy="818.3" r="3.7"/><circle class="r" cx="570.5" cy="790.2" r="3.7"/><circle class="b" cx="573.1" cy="667.3" r="3.7"/><circle class="g" cx="573.1" cy="821.8" r="3.7"/><circle class="r" cx="573.1" cy="793.7" r="3.7"/><circle class="b" cx="575.7" cy="674.4" r="3.7"/><circle class="g" cx="575.7" cy="825.3" r="3.7"/><circle class="r" cx="575.7" cy="814.8" r="3.7"/><circle class="b" cx="578.3" cy="674.4" r="3.7"/><circle class="g" cx="578.3" cy="818.3" r="3.7"/><circle class="r" cx="578.3" cy="818.3" r="3.7"/><circle class="b" cx="580.9" cy="674.4" r="3.7"/><circle class="g" cx="580.9" cy="825.3" r="3.7"/><circle class="r" cx="580.9" cy="821.8" r="3.7"/><circle class="b" cx="583.5" cy="677.9" r="3.7"/><circle class="g" cx="583.5" cy="811.3" r="3.7"/><circle class="r" cx="583.5" cy="776.2" r="3.7"/><circle class="b" cx="586.1" cy="677.9" r="3.7"/><circle class="g" cx="586.1" cy="821.8" r="3.7"/><circle class="r" cx="586.1" cy="807.8" r="3.7"/><circle class="b" cx="588.7" cy="677.9" r="3.7"/><circle class="g" cx="588.7" cy="804.2" r="3.7"/><circle class="r" cx="588.7" cy="716.5" r="3.7"/><circle class="b" cx="591.3" cy="677.9" r="3.7"/><circle class="g" cx="591.3" cy="825.3" r="3.7"/><circle class="r" cx="591.3" cy="818.3" r="3.7"/><circle class="b" cx="593.9" cy="677.9" r="3.7"/><circle class="g" cx="593.9" cy="821.8" r="3.7"/><circle class="r" cx="593.9" cy="825.3" r="3.7"/><circle class="b" cx="596.5" cy="681.4" r="3.7"/><circle class="g" cx="596.5" cy="818.3" r="3.7"/><circle class="r" cx="596.5" cy="807.8" r="3.7"/><circle class="b" cx="599.1" cy="681.4" r="3.7"/><circle class="g" cx="599.1" cy="807.8" r="3.7"/><circle class="r" cx="599.1" cy="758.6" r="3.7"/><circle class="b" cx="601.7" cy="681.4" r="3.7"/><circle class="g" cx="601.7" cy="821.8" r="3.7"/><circle class="r" cx="601.7" cy="811.3" r="3.7"/><circle class="b" cx="604.3" cy="681.4" r="3.7"/><circle class="g" cx="604.3" cy="825.3" r="3.7"/><circle class="r" cx="604.3" cy="818.3" r="3.7"/><circle class="b" cx="606.9" cy="681.4" r="3.7"/><circle class="g" cx="606.9" cy="807.8" r="3.7"/><circle class="r" cx="606.9" cy="786.7" r="3.7"/><circle class="b" cx="609.5" cy="681.4" r="3.7"/><circle class="g" cx="609.5" cy="821.8" r="3.7"/><circle class="r" cx="609.5" cy="807.8" r="3.7"/><circle class="b" cx="612.1" cy="684.9" r="3.7"/><circle class="g" cx="612.1" cy="825.3" r="3.7"/><circle class="r" cx="612.1" cy="814.8" r="3.7"/><circle class="b" cx="614.7" cy="684.9" r="3.7"/><circle class="g" cx="614.7" cy="818.3" r="3.7"/><circle class="r" cx="614.7" cy="779.7" r="3.7"/><circle class="b" cx="617.3" cy="684.9" r="3.7"/><circle class="g" cx="617.3" cy="821.8" r="3.7"/><circle class="r" cx="617.3" cy="814.8" r="3.7"/><circle class="b" cx="619.9" cy="684.9" r="3.7"/><circle class="g" cx="619.9" cy="811.3" r="3.7"/><circle class="r" cx="619.9" cy="818.3" r="3.7"/><circle class="b" cx="622.5" cy="684.9" r="3.7"/><circle class="g" cx="622.5" cy="825.3" r="3.7"/><circle class="r" cx="622.5" cy="821.8" r="3.7"/><circle class="b" cx="625.1" cy="684.9" r="3.7"/><circle class="g" cx="625.1" cy="821.8" r="3.7"/><circle class="r" cx="625.1" cy="762.1" r="3.7"/><circle class="b" cx="627.7" cy="688.4" r="3.7"/><circle class="g" cx="627.7" cy="818.3" r="3.7"/><circle class="r" cx="627.7" cy="793.7" r="3.7"/><circle class="b" cx="630.3" cy="688.4" r="3.7"/><circle class="g" cx="630.3" cy="821.8" r="3.7"/><circle class="r" cx="630.3" cy="765.6" r="3.7"/><circle class="b" cx="632.9" cy="688.4" r="3.7"/><circle class="g" cx="632.9" cy="793.7" r="3.7"/><circle class="r" cx="632.9" cy="762.1" r="3.7"/><circle class="b" cx="635.5" cy="691.9" r="3.7"/><circle class="g" cx="635.5" cy="818.3" r="3.7"/><circle class="r" cx="635.5" cy="804.2" r="3.7"/><circle class="b" cx="638.1" cy="691.9" r="3.7"/><circle class="g" cx="638.1" cy="825.3" r="3.7"/><circle class="r" cx="638.1" cy="814.8" r="3.7"/><circle class="b" cx="640.7" cy="691.9" r="3.7"/><circle class="g" cx="640.7" cy="821.8" r="3.7"/><circle class="r" cx="640.7" cy="821.8" r="3.7"/><circle class="b" cx="643.3" cy="695.4" r="3.7"/><circle class="g" cx="643.3" cy="825.3" r="3.7"/><circle class="r" cx="643.3" cy="807.8" r="3.7"/><circle class="b" cx="645.9" cy="695.4" r="3.7"/><circle class="g" cx="645.9" cy="818.3" r="3.7"/><circle class="r" cx="645.9" cy="818.3" r="3.7"/><circle class="b" cx="648.5" cy="695.4" r="3.7"/><circle class="g" cx="648.5" cy="825.3" r="3.7"/><circle class="r" cx="648.5" cy="807.8" r="3.7"/><circle class="b" cx="651.1" cy="695.4" r="3.7"/><circle class="g" cx="651.1" cy="821.8" r="3.7"/><circle class="r" cx="651.1" cy="825.3" r="3.7"/><circle class="b" cx="653.7" cy="698.9" r="3.7"/><circle class="g" cx="653.7" cy="811.3" r="3.7"/><circle class="r" cx="653.7" cy="821.8" r="3.7"/><circle class="b" cx="656.3" cy="698.9" r="3.7"/><circle class="g" cx="656.3" cy="825.3" r="3.7"/><circle class="r" cx="656.3" cy="818.3" r="3.7"/><circle class="b" cx="658.9" cy="698.9" r="3.7"/><circle class="g" cx="658.9" cy="821.8" r="3.7"/><circle class="r" cx="658.9" cy="825.3" r="3.7"/><circle class="b" cx="661.5" cy="698.9" r="3.7"/><circle class="g" cx="661.5" cy="825.3" r="3.7"/><circle class="r" cx="661.5" cy="825.3" r="3.7"/><circle class="b" cx="664.1" cy="698.9" r="3.7"/><circle class="g" cx="664.1" cy="821.8" r="3.7"/><circle class="r" cx="664.1" cy="814.8" r="3.7"/><circle class="b" cx="666.7" cy="698.9" r="3.7"/><circle class="g" cx="666.7" cy="818.3" r="3.7"/><circle class="r" cx="666.7" cy="818.3" r="3.7"/><circle class="b" cx="669.3" cy="698.9" r="3.7"/><circle class="g" cx="669.3" cy="804.2" r="3.7"/><circle class="r" cx="669.3" cy="765.6" r="3.7"/><circle class="b" cx="671.9" cy="702.4" r="3.7"/><circle class="g" cx="671.9" cy="821.8" r="3.7"/><circle class="r" cx="671.9" cy="818.3" r="3.7"/><circle class="b" cx="674.5" cy="702.4" r="3.7"/><circle class="g" cx="674.5" cy="825.3" r="3.7"/><circle class="r" cx="674.5" cy="821.8" r="3.7"/><circle class="b" cx="677.1" cy="702.4" r="3.7"/><circle class="g" cx="677.1" cy="807.8" r="3.7"/><circle class="r" cx="677.1" cy="800.7" r="3.7"/><circle class="b" cx="679.7" cy="702.4" r="3.7"/><circle class="g" cx="679.7" cy="821.8" r="3.7"/><circle class="r" cx="679.7" cy="814.8" r="3.7"/><circle class="b" cx="682.3" cy="702.4" r="3.7"/><circle class="g" cx="682.3" cy="825.3" r="3.7"/><circle class="r" cx="682.3" cy="800.7" r="3.7"/><circle class="b" cx="684.9" cy="702.4" r="3.7"/><circle class="g" cx="684.9" cy="818.3" r="3.7"/><circle class="r" cx="684.9" cy="807.8" r="3.7"/><circle class="b" cx="687.5" cy="702.4" r="3.7"/><circle class="g" cx="687.5" cy="825.3" r="3.7"/><circle class="r" cx="687.5" cy="821.8" r="3.7"/><circle class="b" cx="690.1" cy="706.0" r="3.7"/><circle class="g" cx="690.1" cy="818.3" r="3.7"/><circle class="r" cx="690.1" cy="818.3" r="3.7"/><circle class="b" cx="692.7" cy="706.0" r="3.7"/><circle class="g" cx="692.7" cy="821.8" r="3.7"/><circle class="r" cx="692.7" cy="821.8" r="3.7"/><circle class="b" cx="695.3" cy="706.0" r="3.7"/><circle class="g" cx="695.3" cy="825.3" r="3.7"/><circle class="r" cx="695.3" cy="748.1" r="3.7"/><circle class="b" cx="697.9" cy="706.0" r="3.7"/><circle class="g" cx="697.9" cy="818.3" r="3.7"/><circle class="r" cx="697.9" cy="811.3" r="3.7"/><circle class="b" cx="700.5" cy="706.0" r="3.7"/><circle class="g" cx="700.5" cy="821.8" r="3.7"/><circle class="r" cx="700.5" cy="821.8" r="3.7"/><circle class="b" cx="703.1" cy="706.0" r="3.7"/><circle class="g" cx="703.1" cy="825.3" r="3.7"/><circle class="r" cx="703.1" cy="814.8" r="3.7"/><circle class="b" cx="705.7" cy="706.0" r="3.7"/><circle class="g" cx="705.7" cy="797.2" r="3.7"/><circle class="r" cx="705.7" cy="758.6" r="3.7"/><circle class="b" cx="708.3" cy="713.0" r="3.7"/><circle class="g" cx="708.3" cy="821.8" r="3.7"/><circle class="r" cx="708.3" cy="825.3" r="3.7"/><circle class="b" cx="710.9" cy="713.0" r="3.7"/><circle class="g" cx="710.9" cy="825.3" r="3.7"/><circle class="r" cx="710.9" cy="818.3" r="3.7"/><circle class="b" cx="713.5" cy="713.0" r="3.7"/><circle class="g" cx="713.5" cy="814.8" r="3.7"/><circle class="r" cx="713.5" cy="804.2" r="3.7"/><circle class="b" cx="716.1" cy="713.0" r="3.7"/><circle class="g" cx="716.1" cy="821.8" r="3.7"/><circle class="r" cx="716.1" cy="797.2" r="3.7"/><circle class="b" cx="718.7" cy="713.0" r="3.7"/><circle class="g" cx="718.7" cy="825.3" r="3.7"/><circle class="r" cx="718.7" cy="797.2" r="3.7"/><circle class="b" cx="721.3" cy="716.5" r="3.7"/><circle class="g" cx="721.3" cy="821.8" r="3.7"/><circle class="r" cx="721.3" cy="821.8" r="3.7"/><circle class="b" cx="723.9" cy="716.5" r="3.7"/><circle class="g" cx="723.9" cy="814.8" r="3.7"/><circle class="r" cx="723.9" cy="818.3" r="3.7"/><circle class="b" cx="726.5" cy="716.5" r="3.7"/><circle class="g" cx="726.5" cy="825.3" r="3.7"/><circle class="r" cx="726.5" cy="814.8" r="3.7"/><circle class="b" cx="729.1" cy="716.5" r="3.7"/><circle class="g" cx="729.1" cy="821.8" r="3.7"/><circle class="r" cx="729.1" cy="811.3" r="3.7"/><circle class="b" cx="731.6" cy="716.5" r="3.7"/><circle class="g" cx="731.6" cy="825.3" r="3.7"/><circle class="r" cx="731.6" cy="772.6" r="3.7"/><circle class="b" cx="734.2" cy="716.5" r="3.7"/><circle class="g" cx="734.2" cy="821.8" r="3.7"/><circle class="r" cx="734.2" cy="821.8" r="3.7"/><circle class="b" cx="736.8" cy="716.5" r="3.7"/><circle class="g" cx="736.8" cy="825.3" r="3.7"/><circle class="r" cx="736.8" cy="818.3" r="3.7"/><circle class="b" cx="739.4" cy="716.5" r="3.7"/><circle class="g" cx="739.4" cy="818.3" r="3.7"/><circle class="r" cx="739.4" cy="811.3" r="3.7"/><circle class="b" cx="742.0" cy="716.5" r="3.7"/><circle class="g" cx="742.0" cy="821.8" r="3.7"/><circle class="r" cx="742.0" cy="825.3" r="3.7"/><circle class="b" cx="744.6" cy="716.5" r="3.7"/><circle class="g" cx="744.6" cy="825.3" r="3.7"/><circle class="r" cx="744.6" cy="821.8" r="3.7"/><circle class="b" cx="747.2" cy="720.0" r="3.7"/><circle class="g" cx="747.2" cy="814.8" r="3.7"/><circle class="r" cx="747.2" cy="786.7" r="3.7"/><circle class="b" cx="749.8" cy="720.0" r="3.7"/><circle class="g" cx="749.8" cy="807.8" r="3.7"/><circle class="r" cx="749.8" cy="765.6" r="3.7"/><circle class="b" cx="752.4" cy="720.0" r="3.7"/><circle class="g" cx="752.4" cy="821.8" r="3.7"/><circle class="r" cx="752.4" cy="783.2" r="3.7"/><circle class="b" cx="755.0" cy="720.0" r="3.7"/><circle class="g" cx="755.0" cy="825.3" r="3.7"/><circle class="r" cx="755.0" cy="814.8" r="3.7"/><circle class="b" cx="757.6" cy="720.0" r="3.7"/><circle class="g" cx="757.6" cy="821.8" r="3.7"/><circle class="r" cx="757.6" cy="769.1" r="3.7"/><circle class="b" cx="760.2" cy="720.0" r="3.7"/><circle class="g" cx="760.2" cy="825.3" r="3.7"/><circle class="r" cx="760.2" cy="790.2" r="3.7"/><circle class="b" cx="762.8" cy="720.0" r="3.7"/><circle class="g" cx="762.8" cy="821.8" r="3.7"/><circle class="r" cx="762.8" cy="821.8" r="3.7"/><circle class="b" cx="765.4" cy="720.0" r="3.7"/><circle class="g" cx="765.4" cy="825.3" r="3.7"/><circle class="r" cx="765.4" cy="818.3" r="3.7"/><circle class="b" cx="768.0" cy="720.0" r="3.7"/><circle class="g" cx="768.0" cy="818.3" r="3.7"/><circle class="r" cx="768.0" cy="825.3" r="3.7"/><circle class="b" cx="770.6" cy="723.5" r="3.7"/><circle class="g" cx="770.6" cy="825.3" r="3.7"/><circle class="r" cx="770.6" cy="821.8" r="3.7"/><circle class="b" cx="773.2" cy="723.5" r="3.7"/><circle class="g" cx="773.2" cy="821.8" r="3.7"/><circle class="r" cx="773.2" cy="818.3" r="3.7"/><circle class="b" cx="775.8" cy="723.5" r="3.7"/><circle class="g" cx="775.8" cy="825.3" r="3.7"/><circle class="r" cx="775.8" cy="821.8" r="3.7"/><circle class="b" cx="778.4" cy="723.5" r="3.7"/><circle class="g" cx="778.4" cy="814.8" r="3.7"/><circle class="r" cx="778.4" cy="807.8" r="3.7"/><circle class="b" cx="781.0" cy="723.5" r="3.7"/><circle class="g" cx="781.0" cy="821.8" r="3.7"/><circle class="r" cx="781.0" cy="814.8" r="3.7"/><circle class="b" cx="783.6" cy="727.0" r="3.7"/><circle class="g" cx="783.6" cy="825.3" r="3.7"/><circle class="r" cx="783.6" cy="821.8" r="3.7"/><circle class="b" cx="786.2" cy="727.0" r="3.7"/><circle class="g" cx="786.2" cy="821.8" r="3.7"/><circle class="r" cx="786.2" cy="818.3" r="3.7"/><circle class="b" cx="788.8" cy="727.0" r="3.7"/><circle class="g" cx="788.8" cy="825.3" r="3.7"/><circle class="r" cx="788.8" cy="814.8" r="3.7"/><circle class="b" cx="791.4" cy="727.0" r="3.7"/><circle class="g" cx="791.4" cy="779.7" r="3.7"/><circle class="r" cx="791.4" cy="758.6" r="3.7"/><circle class="b" cx="794.0" cy="727.0" r="3.7"/><circle class="g" cx="794.0" cy="821.8" r="3.7"/><circle class="r" cx="794.0" cy="818.3" r="3.7"/><circle class="b" cx="796.6" cy="727.0" r="3.7"/><circle class="g" cx="796.6" cy="825.3" r="3.7"/><circle class="r" cx="796.6" cy="807.8" r="3.7"/><circle class="b" cx="799.2" cy="727.0" r="3.7"/><circle class="g" cx="799.2" cy="821.8" r="3.7"/><circle class="r" cx="799.2" cy="821.8" r="3.7"/><circle class="b" cx="801.8" cy="727.0" r="3.7"/><circle class="g" cx="801.8" cy="825.3" r="3.7"/><circle class="r" cx="801.8" cy="811.3" r="3.7"/><circle class="b" cx="804.4" cy="727.0" r="3.7"/><circle class="g" cx="804.4" cy="821.8" r="3.7"/><circle class="r" cx="804.4" cy="821.8" r="3.7"/><circle class="b" cx="807.0" cy="730.5" r="3.7"/><circle class="g" cx="807.0" cy="825.3" r="3.7"/><circle class="r" cx="807.0" cy="807.8" r="3.7"/><circle class="b" cx="809.6" cy="730.5" r="3.7"/><circle class="g" cx="809.6" cy="821.8" r="3.7"/><circle class="r" cx="809.6" cy="818.3" r="3.7"/><circle class="b" cx="812.2" cy="730.5" r="3.7"/><circle class="g" cx="812.2" cy="825.3" r="3.7"/><circle class="r" cx="812.2" cy="821.8" r="3.7"/><circle class="b" cx="814.8" cy="730.5" r="3.7"/><circle class="g" cx="814.8" cy="821.8" r="3.7"/><circle class="r" cx="814.8" cy="562.0" r="3.7"/><circle class="b" cx="817.4" cy="730.5" r="3.7"/><circle class="g" cx="817.4" cy="825.3" r="3.7"/><circle class="r" cx="817.4" cy="821.8" r="3.7"/><circle class="b" cx="820.0" cy="734.0" r="3.7"/><circle class="g" cx="820.0" cy="807.8" r="3.7"/><circle class="r" cx="820.0" cy="797.2" r="3.7"/><circle class="b" cx="822.6" cy="734.0" r="3.7"/><circle class="g" cx="822.6" cy="821.8" r="3.7"/><circle class="r" cx="822.6" cy="814.8" r="3.7"/><circle class="b" cx="825.2" cy="734.0" r="3.7"/><circle class="g" cx="825.2" cy="825.3" r="3.7"/><circle class="r" cx="825.2" cy="818.3" r="3.7"/><circle class="b" cx="827.8" cy="734.0" r="3.7"/><circle class="g" cx="827.8" cy="818.3" r="3.7"/><circle class="r" cx="827.8" cy="804.2" r="3.7"/><circle class="b" cx="830.4" cy="734.0" r="3.7"/><circle class="g" cx="830.4" cy="821.8" r="3.7"/><circle class="r" cx="830.4" cy="818.3" r="3.7"/><circle class="b" cx="833.0" cy="737.5" r="3.7"/><circle class="g" cx="833.0" cy="825.3" r="3.7"/><circle class="r" cx="833.0" cy="811.3" r="3.7"/><circle class="b" cx="835.6" cy="737.5" r="3.7"/><circle class="g" cx="835.6" cy="821.8" r="3.7"/><circle class="r" cx="835.6" cy="818.3" r="3.7"/><circle class="b" cx="838.2" cy="737.5" r="3.7"/><circle class="g" cx="838.2" cy="825.3" r="3.7"/><circle class="r" cx="838.2" cy="807.8" r="3.7"/><circle class="b" cx="840.8" cy="737.5" r="3.7"/><circle class="g" cx="840.8" cy="814.8" r="3.7"/><circle class="r" cx="840.8" cy="821.8" r="3.7"/><circle class="b" cx="843.4" cy="737.5" r="3.7"/><circle class="g" cx="843.4" cy="821.8" r="3.7"/><circle class="r" cx="843.4" cy="797.2" r="3.7"/><circle class="b" cx="846.0" cy="741.1" r="3.7"/><circle class="g" cx="846.0" cy="825.3" r="3.7"/><circle class="r" cx="846.0" cy="818.3" r="3.7"/><circle class="b" cx="848.6" cy="741.1" r="3.7"/><circle class="g" cx="848.6" cy="807.8" r="3.7"/><circle class="r" cx="848.6" cy="825.3" r="3.7"/><circle class="b" cx="851.2" cy="741.1" r="3.7"/><circle class="g" cx="851.2" cy="821.8" r="3.7"/><circle class="r" cx="851.2" cy="818.3" r="3.7"/><circle class="b" cx="853.8" cy="741.1" r="3.7"/><circle class="g" cx="853.8" cy="825.3" r="3.7"/><circle class="r" cx="853.8" cy="814.8" r="3.7"/><circle class="b" cx="856.4" cy="741.1" r="3.7"/><circle class="g" cx="856.4" cy="814.8" r="3.7"/><circle class="r" cx="856.4" cy="797.2" r="3.7"/><circle class="b" cx="859.0" cy="744.6" r="3.7"/><circle class="g" cx="859.0" cy="821.8" r="3.7"/><circle class="r" cx="859.0" cy="818.3" r="3.7"/><circle class="b" cx="861.6" cy="744.6" r="3.7"/><circle class="g" cx="861.6" cy="825.3" r="3.7"/><circle class="r" cx="861.6" cy="821.8" r="3.7"/><circle class="b" cx="864.2" cy="744.6" r="3.7"/><circle class="g" cx="864.2" cy="821.8" r="3.7"/><circle class="r" cx="864.2" cy="825.3" r="3.7"/><circle class="b" cx="866.8" cy="748.1" r="3.7"/><circle class="g" cx="866.8" cy="825.3" r="3.7"/><circle class="r" cx="866.8" cy="776.2" r="3.7"/><circle class="b" cx="869.4" cy="748.1" r="3.7"/><circle class="g" cx="869.4" cy="825.3" r="3.7"/><circle class="r" cx="869.4" cy="821.8" r="3.7"/><circle class="b" cx="872.0" cy="748.1" r="3.7"/><circle class="g" cx="872.0" cy="825.3" r="3.7"/><circle class="r" cx="872.0" cy="825.3" r="3.7"/><circle class="b" cx="874.6" cy="748.1" r="3.7"/><circle class="g" cx="874.6" cy="821.8" r="3.7"/><circle class="r" cx="874.6" cy="821.8" r="3.7"/><circle class="b" cx="877.2" cy="748.1" r="3.7"/><circle class="g" cx="877.2" cy="818.3" r="3.7"/><circle class="r" cx="877.2" cy="825.3" r="3.7"/><circle class="b" cx="879.8" cy="748.1" r="3.7"/><circle class="g" cx="879.8" cy="825.3" r="3.7"/><circle class="r" cx="879.8" cy="818.3" r="3.7"/><circle class="b" cx="882.4" cy="748.1" r="3.7"/><circle class="g" cx="882.4" cy="825.3" r="3.7"/><circle class="r" cx="882.4" cy="821.8" r="3.7"/><circle class="b" cx="885.0" cy="751.6" r="3.7"/><circle class="g" cx="885.0" cy="821.8" r="3.7"/><circle class="r" cx="885.0" cy="825.3" r="3.7"/><circle class="b" cx="887.6" cy="751.6" r="3.7"/><circle class="g" cx="887.6" cy="825.3" r="3.7"/><circle class="r" cx="887.6" cy="818.3" r="3.7"/><circle class="b" cx="890.2" cy="751.6" r="3.7"/><circle class="g" cx="890.2" cy="825.3" r="3.7"/><circle class="r" cx="890.2" cy="804.2" r="3.7"/><circle class="b" cx="892.8" cy="751.6" r="3.7"/><circle class="g" cx="892.8" cy="821.8" r="3.7"/><circle class="r" cx="892.8" cy="821.8" r="3.7"/><circle class="b" cx="895.4" cy="751.6" r="3.7"/><circle class="g" cx="895.4" cy="825.3" r="3.7"/><circle class="r" cx="895.4" cy="814.8" r="3.7"/><circle class="b" cx="898.0" cy="751.6" r="3.7"/><circle class="g" cx="898.0" cy="811.3" r="3.7"/><circle class="r" cx="898.0" cy="790.2" r="3.7"/><circle class="b" cx="900.6" cy="755.1" r="3.7"/><circle class="g" cx="900.6" cy="821.8" r="3.7"/><circle class="r" cx="900.6" cy="818.3" r="3.7"/><circle class="b" cx="903.2" cy="755.1" r="3.7"/><circle class="g" cx="903.2" cy="825.3" r="3.7"/><circle class="r" cx="903.2" cy="821.8" r="3.7"/><circle class="b" cx="905.8" cy="755.1" r="3.7"/><circle class="g" cx="905.8" cy="825.3" r="3.7"/><circle class="r" cx="905.8" cy="814.8" r="3.7"/><circle class="b" cx="908.4" cy="755.1" r="3.7"/><circle class="g" cx="908.4" cy="825.3" r="3.7"/><circle class="r" cx="908.4" cy="821.8" r="3.7"/><circle class="b" cx="911.0" cy="755.1" r="3.7"/><circle class="g" cx="911.0" cy="821.8" r="3.7"/><circle class="r" cx="911.0" cy="818.3" r="3.7"/><circle class="b" cx="913.6" cy="755.1" r="3.7"/><circle class="g" cx="913.6" cy="821.8" r="3.7"/><circle class="r" cx="913.6" cy="776.2" r="3.7"/><circle class="b" cx="916.2" cy="755.1" r="3.7"/><circle class="g" cx="916.2" cy="825.3" r="3.7"/><circle class="r" cx="916.2" cy="818.3" r="3.7"/><circle class="b" cx="918.8" cy="758.6" r="3.7"/><circle class="g" cx="918.8" cy="825.3" r="3.7"/><circle class="r" cx="918.8" cy="814.8" r="3.7"/><circle class="b" cx="921.4" cy="758.6" r="3.7"/><circle class="g" cx="921.4" cy="825.3" r="3.7"/><circle class="r" cx="921.4" cy="804.2" r="3.7"/><circle class="b" cx="924.0" cy="758.6" r="3.7"/><circle class="g" cx="924.0" cy="821.8" r="3.7"/><circle class="r" cx="924.0" cy="821.8" r="3.7"/><circle class="b" cx="926.6" cy="758.6" r="3.7"/><circle class="g" cx="926.6" cy="821.8" r="3.7"/><circle class="r" cx="926.6" cy="825.3" r="3.7"/><circle class="b" cx="929.2" cy="758.6" r="3.7"/><circle class="g" cx="929.2" cy="814.8" r="3.7"/><circle class="r" cx="929.2" cy="49.6" r="3.7"/><circle class="b" cx="931.8" cy="758.6" r="3.7"/><circle class="g" cx="931.8" cy="825.3" r="3.7"/><circle class="r" cx="931.8" cy="821.8" r="3.7"/><circle class="b" cx="934.4" cy="762.1" r="3.7"/><circle class="g" cx="934.4" cy="821.8" r="3.7"/><circle class="r" cx="934.4" cy="811.3" r="3.7"/><circle class="b" cx="937.0" cy="762.1" r="3.7"/><circle class="g" cx="937.0" cy="825.3" r="3.7"/><circle class="r" cx="937.0" cy="811.3" r="3.7"/><circle class="b" cx="939.6" cy="762.1" r="3.7"/><circle class="g" cx="939.6" cy="825.3" r="3.7"/><circle class="r" cx="939.6" cy="821.8" r="3.7"/><circle class="b" cx="942.2" cy="762.1" r="3.7"/><circle class="g" cx="942.2" cy="818.3" r="3.7"/><circle class="r" cx="942.2" cy="818.3" r="3.7"/><circle class="b" cx="944.8" cy="762.1" r="3.7"/><circle class="g" cx="944.8" cy="818.3" r="3.7"/><circle class="r" cx="944.8" cy="811.3" r="3.7"/><circle class="b" cx="947.4" cy="762.1" r="3.7"/><circle class="g" cx="947.4" cy="821.8" r="3.7"/><circle class="r" cx="947.4" cy="821.8" r="3.7"/><circle class="b" cx="950.0" cy="765.6" r="3.7"/><circle class="g" cx="950.0" cy="825.3" r="3.7"/><circle class="r" cx="950.0" cy="800.7" r="3.7"/><circle class="b" cx="952.6" cy="765.6" r="3.7"/><circle class="g" cx="952.6" cy="821.8" r="3.7"/><circle class="r" cx="952.6" cy="821.8" r="3.7"/><circle class="b" cx="955.2" cy="769.1" r="3.7"/><circle class="g" cx="955.2" cy="821.8" r="3.7"/><circle class="r" cx="955.2" cy="818.3" r="3.7"/><circle class="b" cx="957.8" cy="769.1" r="3.7"/><circle class="g" cx="957.8" cy="821.8" r="3.7"/><circle class="r" cx="957.8" cy="804.2" r="3.7"/><circle class="b" cx="960.4" cy="769.1" r="3.7"/><circle class="g" cx="960.4" cy="825.3" r="3.7"/><circle class="r" cx="960.4" cy="821.8" r="3.7"/><circle class="b" cx="963.0" cy="769.1" r="3.7"/><circle class="g" cx="963.0" cy="825.3" r="3.7"/><circle class="r" cx="963.0" cy="818.3" r="3.7"/><circle class="b" cx="965.6" cy="769.1" r="3.7"/><circle class="g" cx="965.6" cy="825.3" r="3.7"/><circle class="r" cx="965.6" cy="807.8" r="3.7"/><circle class="b" cx="968.2" cy="769.1" r="3.7"/><circle class="g" cx="968.2" cy="821.8" r="3.7"/><circle class="r" cx="968.2" cy="821.8" r="3.7"/><circle class="b" cx="970.8" cy="769.1" r="3.7"/><circle class="g" cx="970.8" cy="825.3" r="3.7"/><circle class="r" cx="970.8" cy="818.3" r="3.7"/><circle class="b" cx="973.4" cy="769.1" r="3.7"/><circle class="g" cx="973.4" cy="825.3" r="3.7"/><circle class="r" cx="973.4" cy="821.8" r="3.7"/><circle class="b" cx="976.0" cy="772.6" r="3.7"/><circle class="g" cx="976.0" cy="821.8" r="3.7"/><circle class="r" cx="976.0" cy="818.3" r="3.7"/><circle class="b" cx="978.6" cy="772.6" r="3.7"/><circle class="g" cx="978.6" cy="825.3" r="3.7"/><circle class="r" cx="978.6" cy="811.3" r="3.7"/><circle class="b" cx="981.2" cy="772.6" r="3.7"/><circle class="g" cx="981.2" cy="821.8" r="3.7"/><circle class="r" cx="981.2" cy="793.7" r="3.7"/><circle class="b" cx="983.8" cy="772.6" r="3.7"/><circle class="g" cx="983.8" cy="825.3" r="3.7"/><circle class="r" cx="983.8" cy="818.3" r="3.7"/><circle class="b" cx="986.4" cy="772.6" r="3.7"/><circle class="g" cx="986.4" cy="821.8" r="3.7"/><circle class="r" cx="986.4" cy="800.7" r="3.7"/><circle class="b" cx="989.0" cy="772.6" r="3.7"/><circle class="g" cx="989.0" cy="825.3" r="3.7"/><circle class="r" cx="989.0" cy="818.3" r="3.7"/><circle class="b" cx="991.6" cy="772.6" r="3.7"/><circle class="g" cx="991.6" cy="821.8" r="3.7"/><circle class="r" cx="991.6" cy="825.3" r="3.7"/><circle class="b" cx="994.2" cy="772.6" r="3.7"/><circle class="g" cx="994.2" cy="818.3" r="3.7"/><circle class="r" cx="994.2" cy="825.3" r="3.7"/><circle class="b" cx="996.8" cy="776.2" r="3.7"/><circle class="g" cx="996.8" cy="825.3" r="3.7"/><circle class="r" cx="996.8" cy="818.3" r="3.7"/><circle class="b" cx="999.4" cy="776.2" r="3.7"/><circle class="g" cx="999.4" cy="825.3" r="3.7"/><circle class="r" cx="999.4" cy="821.8" r="3.7"/><circle class="b" cx="1002.0" cy="776.2" r="3.7"/><circle class="g" cx="1002.0" cy="821.8" r="3.7"/><circle class="r" cx="1002.0" cy="797.2" r="3.7"/><circle class="b" cx="1004.6" cy="776.2" r="3.7"/><circle class="g" cx="1004.6" cy="797.2" r="3.7"/><circle class="r" cx="1004.6" cy="814.8" r="3.7"/><circle class="b" cx="1007.2" cy="776.2" r="3.7"/><circle class="g" cx="1007.2" cy="821.8" r="3.7"/><circle class="r" cx="1007.2" cy="821.8" r="3.7"/><circle class="b" cx="1009.8" cy="776.2" r="3.7"/><circle class="g" cx="1009.8" cy="818.3" r="3.7"/><circle class="r" cx="1009.8" cy="818.3" r="3.7"/><circle class="b" cx="1012.4" cy="776.2" r="3.7"/><circle class="g" cx="1012.4" cy="814.8" r="3.7"/><circle class="r" cx="1012.4" cy="807.8" r="3.7"/><circle class="b" cx="1015.0" cy="779.7" r="3.7"/><circle class="g" cx="1015.0" cy="825.3" r="3.7"/><circle class="r" cx="1015.0" cy="825.3" r="3.7"/><circle class="b" cx="1017.6" cy="779.7" r="3.7"/><circle class="g" cx="1017.6" cy="825.3" r="3.7"/><circle class="r" cx="1017.6" cy="818.3" r="3.7"/><circle class="b" cx="1020.2" cy="779.7" r="3.7"/><circle class="g" cx="1020.2" cy="825.3" r="3.7"/><circle class="r" cx="1020.2" cy="821.8" r="3.7"/><circle class="b" cx="1022.8" cy="779.7" r="3.7"/><circle class="g" cx="1022.8" cy="818.3" r="3.7"/><circle class="r" cx="1022.8" cy="818.3" r="3.7"/><circle class="b" cx="1025.4" cy="779.7" r="3.7"/><circle class="g" cx="1025.4" cy="825.3" r="3.7"/><circle class="r" cx="1025.4" cy="814.8" r="3.7"/><circle class="b" cx="1028.0" cy="779.7" r="3.7"/><circle class="g" cx="1028.0" cy="821.8" r="3.7"/><circle class="r" cx="1028.0" cy="821.8" r="3.7"/><circle class="b" cx="1030.6" cy="779.7" r="3.7"/><circle class="g" cx="1030.6" cy="825.3" r="3.7"/><circle class="r" cx="1030.6" cy="818.3" r="3.7"/><circle class="b" cx="1033.2" cy="779.7" r="3.7"/><circle class="g" cx="1033.2" cy="825.3" r="3.7"/><circle class="r" cx="1033.2" cy="825.3" r="3.7"/><circle class="b" cx="1035.8" cy="783.2" r="3.7"/><circle class="g" cx="1035.8" cy="825.3" r="3.7"/><circle class="r" cx="1035.8" cy="825.3" r="3.7"/><circle class="b" cx="1038.4" cy="783.2" r="3.7"/><circle class="g" cx="1038.4" cy="825.3" r="3.7"/><circle class="r" cx="1038.4" cy="818.3" r="3.7"/><circle class="b" cx="1041.0" cy="783.2" r="3.7"/><circle class="g" cx="1041.0" cy="825.3" r="3.7"/><circle class="r" cx="1041.0" cy="811.3" r="3.7"/><circle class="b" cx="1043.6" cy="783.2" r="3.7"/><circle class="g" cx="1043.6" cy="825.3" r="3.7"/><circle class="r" cx="1043.6" cy="821.8" r="3.7"/><circle class="b" cx="1046.2" cy="783.2" r="3.7"/><circle class="g" cx="1046.2" cy="821.8" r="3.7"/><circle class="r" cx="1046.2" cy="818.3" r="3.7"/><circle class="b" cx="1048.8" cy="783.2" r="3.7"/><circle class="g" cx="1048.8" cy="825.3" r="3.7"/><circle class="r" cx="1048.8" cy="825.3" r="3.7"/><circle class="b" cx="1051.4" cy="783.2" r="3.7"/><circle class="g" cx="1051.4" cy="825.3" r="3.7"/><circle class="r" cx="1051.4" cy="821.8" r="3.7"/><circle class="b" cx="1054.0" cy="786.7" r="3.7"/><circle class="g" cx="1054.0" cy="825.3" r="3.7"/><circle class="r" cx="1054.0" cy="818.3" r="3.7"/><circle class="b" cx="1056.5" cy="786.7" r="3.7"/><circle class="g" cx="1056.5" cy="825.3" r="3.7"/><circle class="r" cx="1056.5" cy="818.3" r="3.7"/><circle class="b" cx="1059.1" cy="786.7" r="3.7"/><circle class="g" cx="1059.1" cy="825.3" r="3.7"/><circle class="r" cx="1059.1" cy="821.8" r="3.7"/><circle class="b" cx="1061.7" cy="786.7" r="3.7"/><circle class="g" cx="1061.7" cy="825.3" r="3.7"/><circle class="r" cx="1061.7" cy="783.2" r="3.7"/><circle class="b" cx="1064.3" cy="786.7" r="3.7"/><circle class="g" cx="1064.3" cy="821.8" r="3.7"/><circle class="r" cx="1064.3" cy="818.3" r="3.7"/><circle class="b" cx="1066.9" cy="786.7" r="3.7"/><circle class="g" cx="1066.9" cy="825.3" r="3.7"/><circle class="r" cx="1066.9" cy="804.2" r="3.7"/><circle class="b" cx="1069.5" cy="786.7" r="3.7"/><circle class="g" cx="1069.5" cy="825.3" r="3.7"/><circle class="r" cx="1069.5" cy="818.3" r="3.7"/><circle class="b" cx="1072.1" cy="786.7" r="3.7"/><circle class="g" cx="1072.1" cy="825.3" r="3.7"/><circle class="r" cx="1072.1" cy="825.3" r="3.7"/><circle class="b" cx="1074.7" cy="786.7" r="3.7"/><circle class="g" cx="1074.7" cy="825.3" r="3.7"/><circle class="r" cx="1074.7" cy="825.3" r="3.7"/><circle class="b" cx="1077.3" cy="786.7" r="3.7"/><circle class="g" cx="1077.3" cy="821.8" r="3.7"/><circle class="r" cx="1077.3" cy="818.3" r="3.7"/><circle class="b" cx="1079.9" cy="786.7" r="3.7"/><circle class="g" cx="1079.9" cy="825.3" r="3.7"/><circle class="r" cx="1079.9" cy="825.3" r="3.7"/><circle class="b" cx="1082.5" cy="786.7" r="3.7"/><circle class="g" cx="1082.5" cy="825.3" r="3.7"/><circle class="r" cx="1082.5" cy="811.3" r="3.7"/><circle class="b" cx="1085.1" cy="786.7" r="3.7"/><circle class="g" cx="1085.1" cy="825.3" r="3.7"/><circle class="r" cx="1085.1" cy="818.3" r="3.7"/><circle class="b" cx="1087.7" cy="790.2" r="3.7"/><circle class="g" cx="1087.7" cy="825.3" r="3.7"/><circle class="r" cx="1087.7" cy="825.3" r="3.7"/><circle class="b" cx="1090.3" cy="790.2" r="3.7"/><circle class="g" cx="1090.3" cy="825.3" r="3.7"/><circle class="r" cx="1090.3" cy="825.3" r="3.7"/><circle class="b" cx="1092.9" cy="790.2" r="3.7"/><circle class="g" cx="1092.9" cy="825.3" r="3.7"/><circle class="r" cx="1092.9" cy="821.8" r="3.7"/><circle class="b" cx="1095.5" cy="790.2" r="3.7"/><circle class="g" cx="1095.5" cy="825.3" r="3.7"/><circle class="r" cx="1095.5" cy="814.8" r="3.7"/><circle class="b" cx="1098.1" cy="790.2" r="3.7"/><circle class="g" cx="1098.1" cy="821.8" r="3.7"/><circle class="r" cx="1098.1" cy="821.8" r="3.7"/><circle class="b" cx="1100.7" cy="790.2" r="3.7"/><circle class="g" cx="1100.7" cy="825.3" r="3.7"/><circle class="r" cx="1100.7" cy="818.3" r="3.7"/><circle class="b" cx="1103.3" cy="790.2" r="3.7"/><circle class="g" cx="1103.3" cy="825.3" r="3.7"/><circle class="r" cx="1103.3" cy="825.3" r="3.7"/><circle class="b" cx="1105.9" cy="793.7" r="3.7"/><circle class="g" cx="1105.9" cy="825.3" r="3.7"/><circle class="r" cx="1105.9" cy="825.3" r="3.7"/><circle class="b" cx="1108.5" cy="793.7" r="3.7"/><circle class="g" cx="1108.5" cy="825.3" r="3.7"/><circle class="r" cx="1108.5" cy="818.3" r="3.7"/><circle class="b" cx="1111.1" cy="793.7" r="3.7"/><circle class="g" cx="1111.1" cy="825.3" r="3.7"/><circle class="r" cx="1111.1" cy="814.8" r="3.7"/><circle class="b" cx="1113.7" cy="793.7" r="3.7"/><circle class="g" cx="1113.7" cy="825.3" r="3.7"/><circle class="r" cx="1113.7" cy="821.8" r="3.7"/><circle class="b" cx="1116.3" cy="793.7" r="3.7"/><circle class="g" cx="1116.3" cy="825.3" r="3.7"/><circle class="r" cx="1116.3" cy="825.3" r="3.7"/><circle class="b" cx="1118.9" cy="793.7" r="3.7"/><circle class="g" cx="1118.9" cy="825.3" r="3.7"/><circle class="r" cx="1118.9" cy="818.3" r="3.7"/><circle class="b" cx="1121.5" cy="793.7" r="3.7"/><circle class="g" cx="1121.5" cy="825.3" r="3.7"/><circle class="r" cx="1121.5" cy="821.8" r="3.7"/><circle class="b" cx="1124.1" cy="793.7" r="3.7"/><circle class="g" cx="1124.1" cy="825.3" r="3.7"/><circle class="r" cx="1124.1" cy="825.3" r="3.7"/><circle class="b" cx="1126.7" cy="793.7" r="3.7"/><circle class="g" cx="1126.7" cy="814.8" r="3.7"/><circle class="r" cx="1126.7" cy="818.3" r="3.7"/><circle class="b" cx="1129.3" cy="793.7" r="3.7"/><circle class="g" cx="1129.3" cy="825.3" r="3.7"/><circle class="r" cx="1129.3" cy="821.8" r="3.7"/><circle class="b" cx="1131.9" cy="793.7" r="3.7"/><circle class="g" cx="1131.9" cy="825.3" r="3.7"/><circle class="r" cx="1131.9" cy="825.3" r="3.7"/><circle class="b" cx="1134.5" cy="797.2" r="3.7"/><circle class="g" cx="1134.5" cy="825.3" r="3.7"/><circle class="r" cx="1134.5" cy="821.8" r="3.7"/><circle class="b" cx="1137.1" cy="797.2" r="3.7"/><circle class="g" cx="1137.1" cy="821.8" r="3.7"/><circle class="r" cx="1137.1" cy="818.3" r="3.7"/><circle class="b" cx="1139.7" cy="797.2" r="3.7"/><circle class="g" cx="1139.7" cy="825.3" r="3.7"/><circle class="r" cx="1139.7" cy="825.3" r="3.7"/><circle class="b" cx="1142.3" cy="797.2" r="3.7"/><circle class="g" cx="1142.3" cy="821.8" r="3.7"/><circle class="r" cx="1142.3" cy="814.8" r="3.7"/><circle class="b" cx="1144.9" cy="797.2" r="3.7"/><circle class="g" cx="1144.9" cy="825.3" r="3.7"/><circle class="r" cx="1144.9" cy="825.3" r="3.7"/><circle class="b" cx="1147.5" cy="797.2" r="3.7"/><circle class="g" cx="1147.5" cy="825.3" r="3.7"/><circle class="r" cx="1147.5" cy="825.3" r="3.7"/><circle class="b" cx="1150.1" cy="797.2" r="3.7"/><circle class="g" cx="1150.1" cy="825.3" r="3.7"/><circle class="r" cx="1150.1" cy="818.3" r="3.7"/><circle class="b" cx="1152.7" cy="797.2" r="3.7"/><circle class="g" cx="1152.7" cy="825.3" r="3.7"/><circle class="r" cx="1152.7" cy="825.3" r="3.7"/><circle class="b" cx="1155.3" cy="797.2" r="3.7"/><circle class="g" cx="1155.3" cy="821.8" r="3.7"/><circle class="r" cx="1155.3" cy="825.3" r="3.7"/><circle class="b" cx="1157.9" cy="800.7" r="3.7"/><circle class="g" cx="1157.9" cy="825.3" r="3.7"/><circle class="r" cx="1157.9" cy="821.8" r="3.7"/><circle class="b" cx="1160.5" cy="800.7" r="3.7"/><circle class="g" cx="1160.5" cy="825.3" r="3.7"/><circle class="r" cx="1160.5" cy="825.3" r="3.7"/><circle class="b" cx="1163.1" cy="800.7" r="3.7"/><circle class="g" cx="1163.1" cy="825.3" r="3.7"/><circle class="r" cx="1163.1" cy="818.3" r="3.7"/><circle class="b" cx="1165.7" cy="800.7" r="3.7"/><circle class="g" cx="1165.7" cy="825.3" r="3.7"/><circle class="r" cx="1165.7" cy="825.3" r="3.7"/><circle class="b" cx="1168.3" cy="800.7" r="3.7"/><circle class="g" cx="1168.3" cy="825.3" r="3.7"/><circle class="r" cx="1168.3" cy="825.3" r="3.7"/><circle class="b" cx="1170.9" cy="800.7" r="3.7"/><circle class="g" cx="1170.9" cy="825.3" r="3.7"/><circle class="r" cx="1170.9" cy="825.3" r="3.7"/><circle class="b" cx="1173.5" cy="800.7" r="3.7"/><circle class="g" cx="1173.5" cy="825.3" r="3.7"/><circle class="r" cx="1173.5" cy="818.3" r="3.7"/><circle class="b" cx="1176.1" cy="800.7" r="3.7"/><circle class="g" cx="1176.1" cy="814.8" r="3.7"/><circle class="r" cx="1176.1" cy="811.3" r="3.7"/><circle class="b" cx="1178.7" cy="800.7" r="3.7"/><circle class="g" cx="1178.7" cy="825.3" r="3.7"/><circle class="r" cx="1178.7" cy="825.3" r="3.7"/><circle class="b" cx="1181.3" cy="800.7" r="3.7"/><circle class="g" cx="1181.3" cy="825.3" r="3.7"/><circle class="r" cx="1181.3" cy="825.3" r="3.7"/><circle class="b" cx="1183.9" cy="800.7" r="3.7"/><circle class="g" cx="1183.9" cy="821.8" r="3.7"/><circle class="r" cx="1183.9" cy="811.3" r="3.7"/><circle class="b" cx="1186.5" cy="800.7" r="3.7"/><circle class="g" cx="1186.5" cy="821.8" r="3.7"/><circle class="r" cx="1186.5" cy="811.3" r="3.7"/><circle class="b" cx="1189.1" cy="804.2" r="3.7"/><circle class="g" cx="1189.1" cy="825.3" r="3.7"/><circle class="r" cx="1189.1" cy="825.3" r="3.7"/><circle class="b" cx="1191.7" cy="804.2" r="3.7"/><circle class="g" cx="1191.7" cy="825.3" r="3.7"/><circle class="r" cx="1191.7" cy="825.3" r="3.7"/><circle class="b" cx="1194.3" cy="804.2" r="3.7"/><circle class="g" cx="1194.3" cy="821.8" r="3.7"/><circle class="r" cx="1194.3" cy="793.7" r="3.7"/><circle class="b" cx="1196.9" cy="804.2" r="3.7"/><circle class="g" cx="1196.9" cy="821.8" r="3.7"/><circle class="r" cx="1196.9" cy="825.3" r="3.7"/><circle class="b" cx="1199.5" cy="807.8" r="3.7"/><circle class="g" cx="1199.5" cy="825.3" r="3.7"/><circle class="r" cx="1199.5" cy="825.3" r="3.7"/><circle class="b" cx="1202.1" cy="807.8" r="3.7"/><circle class="g" cx="1202.1" cy="821.8" r="3.7"/><circle class="r" cx="1202.1" cy="821.8" r="3.7"/><circle class="b" cx="1204.7" cy="807.8" r="3.7"/><circle class="g" cx="1204.7" cy="825.3" r="3.7"/><circle class="r" cx="1204.7" cy="825.3" r="3.7"/><circle class="b" cx="1207.3" cy="807.8" r="3.7"/><circle class="g" cx="1207.3" cy="821.8" r="3.7"/><circle class="r" cx="1207.3" cy="818.3" r="3.7"/><circle class="b" cx="1209.9" cy="807.8" r="3.7"/><circle class="g" cx="1209.9" cy="825.3" r="3.7"/><circle class="r" cx="1209.9" cy="821.8" r="3.7"/><circle class="b" cx="1212.5" cy="807.8" r="3.7"/><circle class="g" cx="1212.5" cy="825.3" r="3.7"/><circle class="r" cx="1212.5" cy="825.3" r="3.7"/><circle class="b" cx="1215.1" cy="807.8" r="3.7"/><circle class="g" cx="1215.1" cy="821.8" r="3.7"/><circle class="r" cx="1215.1" cy="821.8" r="3.7"/><circle class="b" cx="1217.7" cy="807.8" r="3.7"/><circle class="g" cx="1217.7" cy="825.3" r="3.7"/><circle class="r" cx="1217.7" cy="818.3" r="3.7"/><circle class="b" cx="1220.3" cy="807.8" r="3.7"/><circle class="g" cx="1220.3" cy="821.8" r="3.7"/><circle class="r" cx="1220.3" cy="825.3" r="3.7"/><circle class="b" cx="1222.9" cy="811.3" r="3.7"/><circle class="g" cx="1222.9" cy="825.3" r="3.7"/><circle class="r" cx="1222.9" cy="825.3" r="3.7"/><circle class="b" cx="1225.5" cy="811.3" r="3.7"/><circle class="g" cx="1225.5" cy="825.3" r="3.7"/><circle class="r" cx="1225.5" cy="818.3" r="3.7"/><circle class="b" cx="1228.1" cy="811.3" r="3.7"/><circle class="g" cx="1228.1" cy="825.3" r="3.7"/><circle class="r" cx="1228.1" cy="825.3" r="3.7"/><circle class="b" cx="1230.7" cy="811.3" r="3.7"/><circle class="g" cx="1230.7" cy="825.3" r="3.7"/><circle class="r" cx="1230.7" cy="821.8" r="3.7"/><circle class="b" cx="1233.3" cy="811.3" r="3.7"/><circle class="g" cx="1233.3" cy="825.3" r="3.7"/><circle class="r" cx="1233.3" cy="825.3" r="3.7"/><circle class="b" cx="1235.9" cy="811.3" r="3.7"/><circle class="g" cx="1235.9" cy="825.3" r="3.7"/><circle class="r" cx="1235.9" cy="825.3" r="3.7"/><circle class="b" cx="1238.5" cy="811.3" r="3.7"/><circle class="g" cx="1238.5" cy="825.3" r="3.7"/><circle class="r" cx="1238.5" cy="825.3" r="3.7"/><circle class="b" cx="1241.1" cy="811.3" r="3.7"/><circle class="g" cx="1241.1" cy="825.3" r="3.7"/><circle class="r" cx="1241.1" cy="825.3" r="3.7"/><circle class="b" cx="1243.7" cy="811.3" r="3.7"/><circle class="g" cx="1243.7" cy="825.3" r="3.7"/><circle class="r" cx="1243.7" cy="811.3" r="3.7"/><circle class="b" cx="1246.3" cy="811.3" r="3.7"/><circle class="g" cx="1246.3" cy="825.3" r="3.7"/><circle class="r" cx="1246.3" cy="825.3" r="3.7"/><circle class="b" cx="1248.9" cy="811.3" r="3.7"/><circle class="g" cx="1248.9" cy="825.3" r="3.7"/><circle class="r" cx="1248.9" cy="821.8" r="3.7"/><circle class="b" cx="1251.5" cy="811.3" r="3.7"/><circle class="g" cx="1251.5" cy="825.3" r="3.7"/><circle class="r" cx="1251.5" cy="825.3" r="3.7"/><circle class="b" cx="1254.1" cy="814.8" r="3.7"/><circle class="g" cx="1254.1" cy="821.8" r="3.7"/><circle class="r" cx="1254.1" cy="821.8" r="3.7"/><circle class="b" cx="1256.7" cy="814.8" r="3.7"/><circle class="g" cx="1256.7" cy="825.3" r="3.7"/><circle class="r" cx="1256.7" cy="825.3" r="3.7"/><circle class="b" cx="1259.3" cy="814.8" r="3.7"/><circle class="g" cx="1259.3" cy="825.3" r="3.7"/><circle class="r" cx="1259.3" cy="825.3" r="3.7"/><circle class="b" cx="1261.9" cy="814.8" r="3.7"/><circle class="g" cx="1261.9" cy="825.3" r="3.7"/><circle class="r" cx="1261.9" cy="821.8" r="3.7"/><circle class="b" cx="1264.5" cy="818.3" r="3.7"/><circle class="g" cx="1264.5" cy="825.3" r="3.7"/><circle class="r" cx="1264.5" cy="825.3" r="3.7"/><circle class="b" cx="1267.1" cy="818.3" r="3.7"/><circle class="g" cx="1267.1" cy="825.3" r="3.7"/><circle class="r" cx="1267.1" cy="821.8" r="3.7"/><circle class="b" cx="1269.7" cy="818.3" r="3.7"/><circle class="g" cx="1269.7" cy="825.3" r="3.7"/><circle class="r" cx="1269.7" cy="818.3" r="3.7"/><circle class="b" cx="1272.3" cy="818.3" r="3.7"/><circle class="g" cx="1272.3" cy="825.3" r="3.7"/><circle class="r" cx="1272.3" cy="825.3" r="3.7"/><circle class="b" cx="1274.9" cy="818.3" r="3.7"/><circle class="g" cx="1274.9" cy="825.3" r="3.7"/><circle class="r" cx="1274.9" cy="825.3" r="3.7"/><circle class="b" cx="1277.5" cy="818.3" r="3.7"/><circle class="g" cx="1277.5" cy="825.3" r="3.7"/><circle class="r" cx="1277.5" cy="825.3" r="3.7"/><circle class="b" cx="1280.1" cy="818.3" r="3.7"/><circle class="g" cx="1280.1" cy="825.3" r="3.7"/><circle class="r" cx="1280.1" cy="818.3" r="3.7"/><circle class="b" cx="1282.7" cy="818.3" r="3.7"/><circle class="g" cx="1282.7" cy="825.3" r="3.7"/><circle class="r" cx="1282.7" cy="825.3" r="3.7"/><circle class="b" cx="1285.3" cy="818.3" r="3.7"/><circle class="g" cx="1285.3" cy="825.3" r="3.7"/><circle class="r" cx="1285.3" cy="825.3" r="3.7"/><circle class="b" cx="1287.9" cy="818.3" r="3.7"/><circle class="g" cx="1287.9" cy="825.3" r="3.7"/><circle class="r" cx="1287.9" cy="825.3" r="3.7"/><circle class="b" cx="1290.5" cy="821.8" r="3.7"/><circle class="g" cx="1290.5" cy="825.3" r="3.7"/><circle class="r" cx="1290.5" cy="825.3" r="3.7"/><circle class="b" cx="1293.1" cy="821.8" r="3.7"/><circle class="g" cx="1293.1" cy="821.8" r="3.7"/><circle class="r" cx="1293.1" cy="825.3" r="3.7"/><circle class="b" cx="1295.7" cy="821.8" r="3.7"/><circle class="g" cx="1295.7" cy="825.3" r="3.7"/><circle class="r" cx="1295.7" cy="825.3" r="3.7"/><circle class="b" cx="1298.3" cy="821.8" r="3.7"/><circle class="g" cx="1298.3" cy="825.3" r="3.7"/><circle class="r" cx="1298.3" cy="649.8" r="3.7"/><circle class="b" cx="1300.9" cy="825.3" r="3.7"/><circle class="g" cx="1300.9" cy="825.3" r="3.7"/><circle class="r" cx="1300.9" cy="527.0" r="3.7"/><circle class="b" cx="1303.5" cy="825.3" r="3.7"/><circle class="g" cx="1303.5" cy="825.3" r="3.7"/><circle class="r" cx="1303.5" cy="572.6" r="3.7"/><circle class="b" cx="1306.1" cy="825.3" r="3.7"/><circle class="g" cx="1306.1" cy="825.3" r="3.7"/><circle class="r" cx="1306.1" cy="811.3" r="3.7"/><circle class="b" cx="1308.7" cy="825.3" r="3.7"/><circle class="g" cx="1308.7" cy="825.3" r="3.7"/><circle class="r" cx="1308.7" cy="548.0" r="3.7"/><circle class="b" cx="1311.3" cy="825.3" r="3.7"/><circle class="g" cx="1311.3" cy="825.3" r="3.7"/><circle class="r" cx="1311.3" cy="821.8" r="3.7"/><circle class="b" cx="1313.9" cy="825.3" r="3.7"/><circle class="g" cx="1313.9" cy="825.3" r="3.7"/><circle class="r" cx="1313.9" cy="821.8" r="3.7"/><circle class="b" cx="1316.5" cy="825.3" r="3.7"/><circle class="g" cx="1316.5" cy="825.3" r="3.7"/><circle class="r" cx="1316.5" cy="779.7" r="3.7"/><circle class="b" cx="1319.1" cy="825.3" r="3.7"/><circle class="g" cx="1319.1" cy="825.3" r="3.7"/><circle class="r" cx="1319.1" cy="751.6" r="3.7"/><circle class="b" cx="1321.7" cy="825.3" r="3.7"/><circle class="g" cx="1321.7" cy="825.3" r="3.7"/><circle class="r" cx="1321.7" cy="632.2" r="3.7"/><circle class="b" cx="1324.3" cy="825.3" r="3.7"/><circle class="g" cx="1324.3" cy="825.3" r="3.7"/><circle class="r" cx="1324.3" cy="597.1" r="3.7"/><circle class="b" cx="1326.9" cy="825.3" r="3.7"/><circle class="g" cx="1326.9" cy="825.3" r="3.7"/><circle class="r" cx="1326.9" cy="821.8" r="3.7"/><circle class="b" cx="1329.5" cy="825.3" r="3.7"/><circle class="g" cx="1329.5" cy="825.3" r="3.7"/><circle class="r" cx="1329.5" cy="811.3" r="3.7"/><circle class="b" cx="1332.1" cy="825.3" r="3.7"/><circle class="g" cx="1332.1" cy="825.3" r="3.7"/><circle class="r" cx="1332.1" cy="758.6" r="3.7"/></g>
</svg>
<div id="cap">
<div><b>Fig. <span style="margin-right:2.5px">S2.</span> PFOCR performance on WikiPathways sample set of 420 pathways for <i>Homo sapiens</i><span style="margin-right:3px">.</span></b> Provided the known gene content in these previously curated</div>
<div>pathway models, we calculated true positive (blue), false positive (green) and false negative (red) counts.<span style="margin-right:1.5px"></span> Ordered by true positives per pathway, the plot shows very</div>
<div>low false positive counts and a favorable balance of true positives vs false negatives with a few exceptions (red spikes, 5%) where more genes were missed than</div>
<div>detected.<span style="margin-right:3.5px"></span> Automatic expansion of Bioentities hits were manually confirmed and classified as true positives rather than false positives since they were adding legitimate</div>
<div class="last">content.</div>
</div>
</body></html>
